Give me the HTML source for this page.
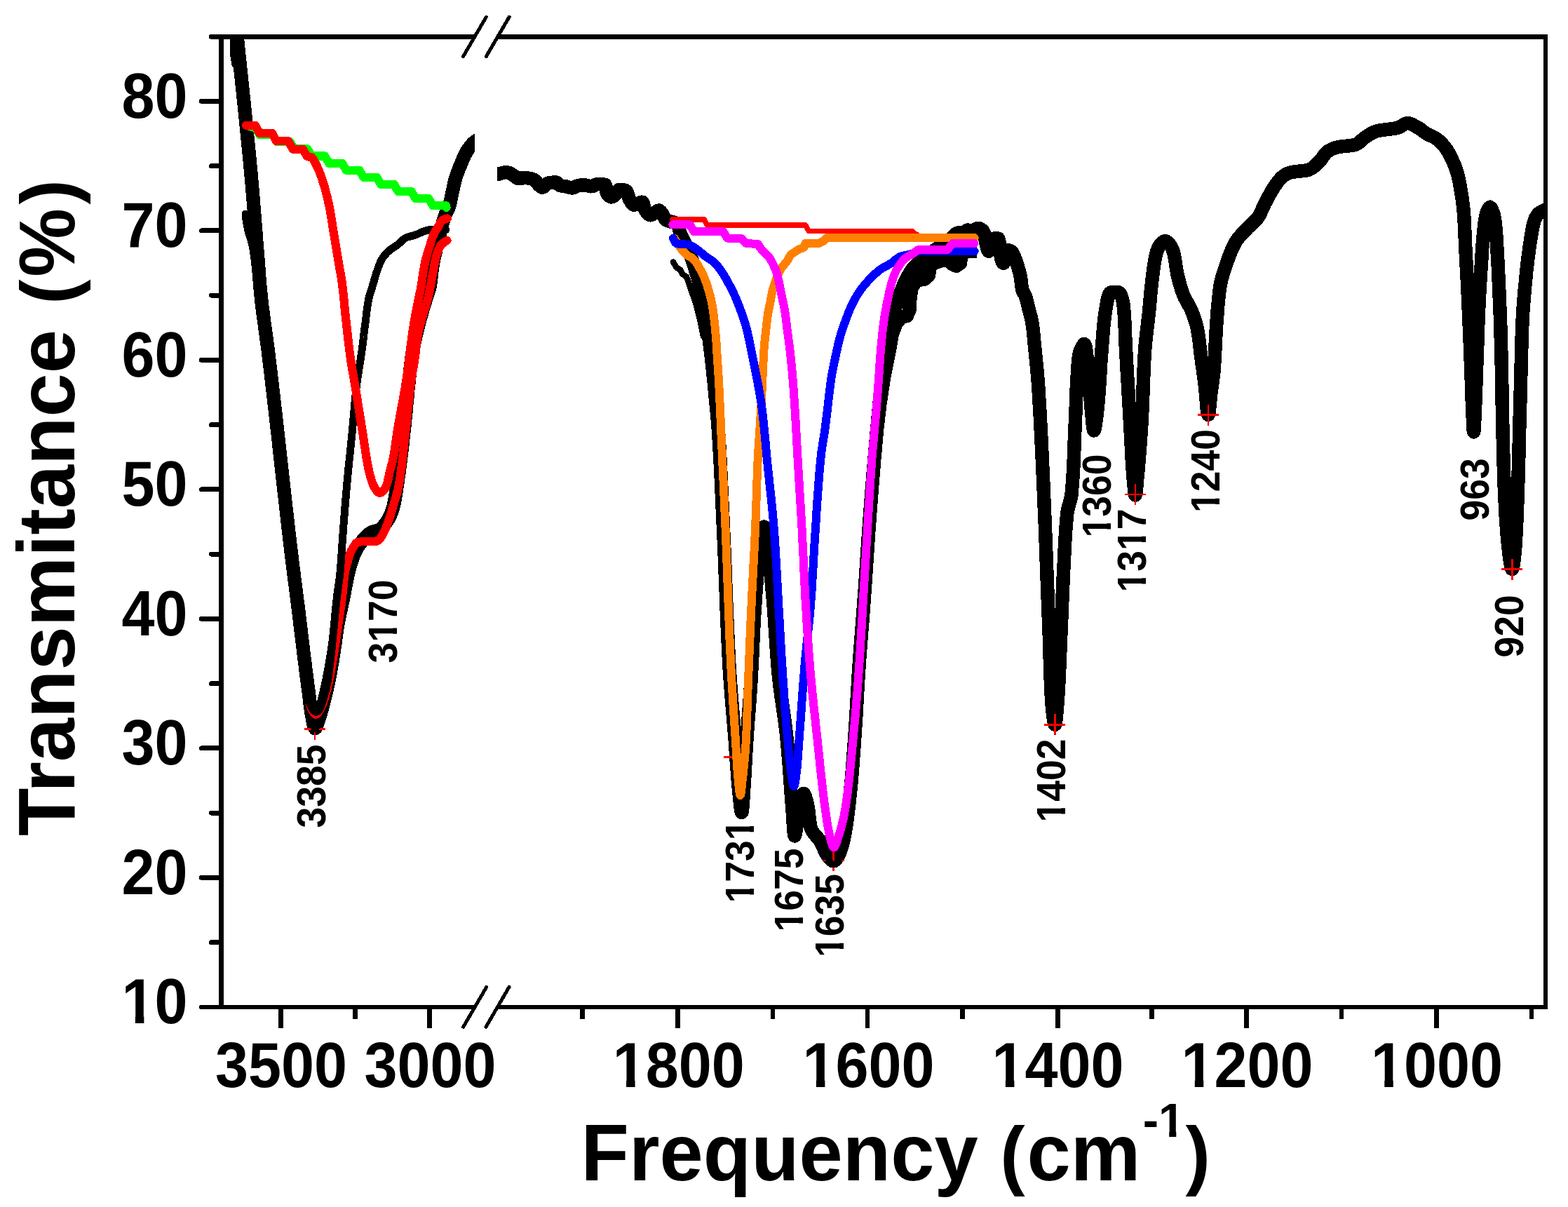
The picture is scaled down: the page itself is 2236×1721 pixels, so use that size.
<!DOCTYPE html>
<html><head><meta charset="utf-8">
<style>
html,body{margin:0;padding:0;background:#fff;}
body{width:2236px;height:1721px;overflow:hidden;}
svg{display:block;}
path,circle{shape-rendering:crispEdges;}
text{font-family:"Liberation Sans",sans-serif;font-weight:bold;fill:#000;}
</style></head>
<body>
<svg width="2236" height="1721" viewBox="0 0 2236 1721">
<rect width="2236" height="1721" fill="#fff"/>
<defs>
<clipPath id="cl"><rect x="315.7" y="52.3" width="361.3" height="1383.7"/></clipPath>
<clipPath id="cr"><rect x="709" y="52.3" width="1495.3000000000002" height="1383.7"/></clipPath>
</defs>
<g clip-path="url(#cl)">
<path d="M336.0,30.0 L336.3,33.0 L336.6,36.0 L336.9,39.0 L337.1,42.0 L337.4,45.0 L337.7,48.0 L338.0,51.0 L338.3,54.0 L338.6,57.0 L338.9,60.0 L339.2,62.9 L339.5,65.9 L339.8,68.9 L340.1,71.9 L340.4,74.9 L340.7,77.9 L341.0,80.9 L341.4,83.9 L341.7,86.9 L342.0,89.9 L342.3,92.9 L342.6,95.9 L342.9,98.9 L343.2,101.9 L343.6,104.8 L343.9,107.8 L344.2,110.8 L344.5,113.8 L344.8,116.8 L345.1,119.8 L345.5,122.8 L345.8,125.8 L346.1,128.8 L346.4,131.8 L346.7,134.8 L347.0,137.8 L347.3,140.8 L347.7,143.7 L348.0,146.7 L348.3,149.7 L348.6,152.7 L348.9,155.7 L349.2,158.7 L349.5,161.7 L349.8,164.7 L350.1,167.7 L350.4,170.7 L350.7,173.7 L351.0,176.7 L351.3,179.7 L351.6,182.7 L351.9,185.7 L352.2,188.6 L352.5,191.6 L352.8,194.6 L353.1,197.6 L353.4,200.6 L353.7,203.6 L354.0,206.6 L354.3,209.6 L354.6,212.6 L354.9,215.6 L355.2,218.6 L355.5,221.6 L355.8,224.6 L356.1,227.6 L356.4,230.6 L356.6,233.6 L356.9,236.6 L357.2,239.6 L357.5,242.6 L357.8,245.6 L358.0,248.5 L358.3,251.5 L358.6,254.5 L358.8,257.5 L359.1,260.5 L359.4,263.5 L359.6,266.5 L359.9,269.5 L360.1,272.5 L360.4,275.5 L360.6,278.5 L360.9,281.5 L361.1,284.5 L361.4,287.5 L361.6,290.5 L361.8,293.5 L362.1,296.5 L362.3,299.5 L362.6,302.5 L362.8,305.5 L363.0,308.5 L363.3,311.5 L363.5,314.5 L363.7,317.5 L364.0,320.5 L364.2,323.5 L364.4,326.5 L364.7,329.5 L364.9,332.5 L365.1,335.5 L365.4,338.5 L365.6,341.5 L365.8,344.5 L366.1,347.5 L366.3,350.5 L366.6,353.5 L366.8,356.5 L367.0,359.5 L367.3,362.5 L367.5,365.5 L367.8,368.5 L368.0,371.5 L368.2,374.5 L368.4,377.5 L368.7,380.5 L368.9,383.5 L369.1,386.5 L369.4,389.5 L369.6,392.5 L369.8,395.5 L370.1,398.5 L370.3,401.5 L370.6,404.5 L370.8,407.5 L371.1,410.5 L371.4,413.5 L371.7,416.5 L371.9,419.5 L372.3,422.5 L372.6,425.5 L372.9,428.5 L373.2,431.5 L373.6,434.4 L373.9,437.4 L374.3,440.4 L374.7,443.4 L375.1,446.4 L375.4,449.4 L375.8,452.3 L376.2,455.3 L376.6,458.3 L377.1,461.3 L377.5,464.3 L377.9,467.3 L378.3,470.2 L378.7,473.2 L379.1,476.2 L379.5,479.2 L379.9,482.2 L380.3,485.2 L380.7,488.1 L381.1,491.1 L381.5,494.1 L381.9,497.1 L382.3,500.1 L382.7,503.1 L383.0,506.0 L383.4,509.0 L383.7,512.0 L384.1,515.0 L384.5,518.0 L384.8,521.0 L385.2,524.0 L385.5,527.0 L385.9,529.9 L386.3,532.9 L386.6,535.9 L387.0,538.9 L387.3,541.9 L387.7,544.9 L388.0,547.9 L388.4,550.9 L388.7,553.9 L389.1,556.8 L389.4,559.8 L389.8,562.8 L390.1,565.8 L390.5,568.8 L390.8,571.8 L391.1,574.8 L391.5,577.8 L391.8,580.8 L392.2,583.7 L392.5,586.7 L392.9,589.7 L393.2,592.7 L393.5,595.7 L393.9,598.7 L394.2,601.7 L394.6,604.7 L394.9,607.7 L395.2,610.6 L395.6,613.6 L395.9,616.6 L396.3,619.6 L396.6,622.6 L396.9,625.6 L397.3,628.6 L397.6,631.6 L397.9,634.6 L398.2,637.6 L398.6,640.6 L398.9,643.5 L399.2,646.5 L399.6,649.5 L399.9,652.5 L400.2,655.5 L400.5,658.5 L400.9,661.5 L401.2,664.5 L401.5,667.5 L401.9,670.5 L402.2,673.5 L402.5,676.4 L402.8,679.4 L403.2,682.4 L403.5,685.4 L403.8,688.4 L404.2,691.4 L404.5,694.4 L404.8,697.4 L405.2,700.4 L405.5,703.4 L405.8,706.4 L406.2,709.3 L406.5,712.3 L406.9,715.3 L407.2,718.3 L407.5,721.3 L407.9,724.3 L408.2,727.3 L408.6,730.3 L408.9,733.3 L409.2,736.3 L409.6,739.2 L409.9,742.2 L410.3,745.2 L410.6,748.2 L410.9,751.2 L411.3,754.2 L411.6,757.2 L412.0,760.2 L412.3,763.2 L412.7,766.1 L413.0,769.1 L413.4,772.1 L413.7,775.1 L414.1,778.1 L414.4,781.1 L414.8,784.1 L415.1,787.1 L415.5,790.0 L415.9,793.0 L416.2,796.0 L416.6,799.0 L417.0,802.0 L417.4,805.0 L417.7,808.0 L418.1,810.9 L418.5,813.9 L418.9,816.9 L419.2,819.9 L419.6,822.9 L420.0,825.9 L420.4,828.9 L420.8,831.8 L421.2,834.8 L421.6,837.8 L421.9,840.8 L422.3,843.8 L422.7,846.8 L423.1,849.7 L423.5,852.7 L423.8,855.7 L424.2,858.7 L424.6,861.7 L425.0,864.7 L425.3,867.7 L425.7,870.6 L426.1,873.6 L426.4,876.6 L426.8,879.6 L427.1,882.6 L427.5,885.6 L427.9,888.6 L428.2,891.6 L428.6,894.5 L429.0,897.5 L429.3,900.5 L429.7,903.5 L430.0,906.5 L430.4,909.5 L430.7,912.5 L431.1,915.5 L431.5,918.4 L431.8,921.4 L432.2,924.4 L432.6,927.4 L432.9,930.4 L433.3,933.4 L433.7,936.4 L434.0,939.4 L434.4,942.3 L434.8,945.3 L435.2,948.3 L435.5,951.3 L435.9,954.3 L436.3,957.3 L436.7,960.2 L437.0,963.2 L437.4,966.2 L437.8,969.2 L438.2,972.2 L438.6,975.2 L439.0,978.2 L439.4,981.1 L439.8,984.1 L440.2,987.1 L440.6,990.1 L440.9,993.1 L441.3,996.1 L441.7,999.1 L442.0,1002.1 L442.4,1005.1 L442.8,1008.0 L443.2,1011.0 L443.6,1014.0 L444.1,1017.0 L444.6,1019.9 L445.2,1022.9 L445.8,1026.4 L446.5,1030.3 L447.3,1033.9 L448.2,1036.8 L449.1,1038.4 L450.1,1038.2 L451.2,1036.2 L452.4,1033.0 L453.6,1029.4 L454.7,1025.9 L455.7,1023.0 L456.6,1020.1 L457.4,1017.3 L458.2,1014.4 L459.0,1011.5 L459.8,1008.5 L460.6,1005.6 L461.3,1002.7 L462.1,999.8 L462.8,996.9 L463.5,994.0 L464.3,991.0 L465.0,988.1 L465.7,985.2 L466.3,982.2 L467.0,979.3 L467.6,976.4 L468.3,973.4 L468.9,970.5 L469.5,967.5 L470.0,964.6 L470.6,961.6 L471.2,958.7 L471.7,955.7 L472.2,952.8 L472.7,949.8 L473.3,946.8 L473.8,943.8 L474.2,940.9 L474.7,937.9 L475.2,934.9 L475.7,932.0 L476.2,929.0 L476.6,926.0 L477.0,923.0 L477.5,920.1 L477.9,917.1 L478.3,914.1 L478.7,911.1 L479.1,908.1 L479.5,905.1 L479.9,902.2 L480.4,899.2 L480.8,896.2 L481.3,893.3 L481.8,890.3 L482.3,887.3 L482.9,884.4 L483.5,881.4 L484.1,878.5 L484.7,875.5 L485.3,872.6 L486.0,869.6 L486.6,866.7 L487.2,863.8 L487.9,860.8 L488.5,857.9 L489.1,854.9 L489.7,852.0 L490.3,849.0 L490.9,846.1 L491.4,843.1 L492.0,840.1 L492.5,837.2 L493.1,834.2 L493.7,831.3 L494.3,828.3 L494.9,825.4 L495.5,822.4 L496.2,819.5 L496.9,816.6 L497.6,813.7 L498.3,810.8 L499.1,807.8 L500.0,804.9 L500.8,802.1 L501.8,799.2 L502.7,796.4 L503.8,793.5 L504.9,790.7 L506.1,788.0 L507.4,785.3 L508.8,782.6 L510.4,780.0 L512.0,777.5 L513.8,775.0 L515.5,772.6 L517.4,770.2 L519.3,767.9 L521.3,765.7 L523.5,763.6 L525.8,761.6 L528.3,759.8 L530.9,758.5 L533.8,757.6 L536.8,756.8 L539.7,755.9 L542.1,754.6 L544.4,752.7 L546.5,750.4 L548.4,748.0 L550.3,745.5 L552.0,743.0 L553.6,740.5 L555.1,737.8 L556.4,735.1 L557.6,732.4 L558.7,729.6 L559.7,726.7 L560.5,723.8 L561.3,720.9 L561.9,718.0 L562.5,715.1 L563.1,712.1 L563.6,709.1 L564.1,706.2 L564.6,703.2 L565.1,700.2 L565.5,697.2 L566.0,694.2 L566.4,691.2 L566.9,688.3 L567.3,685.3 L567.7,682.3 L568.1,679.3 L568.6,676.4 L569.0,673.4 L569.4,670.4 L569.8,667.4 L570.2,664.4 L570.5,661.4 L570.9,658.5 L571.3,655.5 L571.7,652.5 L572.0,649.5 L572.4,646.5 L572.7,643.5 L573.1,640.5 L573.4,637.5 L573.8,634.6 L574.1,631.6 L574.5,628.6 L574.8,625.6 L575.2,622.6 L575.5,619.6 L575.8,616.6 L576.2,613.6 L576.5,610.6 L576.8,607.6 L577.1,604.6 L577.4,601.7 L577.7,598.7 L578.0,595.7 L578.3,592.7 L578.6,589.7 L578.9,586.7 L579.2,583.7 L579.4,580.7 L579.7,577.7 L580.0,574.7 L580.3,571.7 L580.6,568.7 L580.9,565.7 L581.1,562.7 L581.4,559.7 L581.7,556.7 L582.0,553.7 L582.3,550.7 L582.7,547.7 L583.0,544.8 L583.3,541.8 L583.6,538.8 L584.0,535.8 L584.3,532.8 L584.6,529.8 L585.0,526.8 L585.3,523.8 L585.7,520.8 L586.1,517.8 L586.4,514.8 L586.8,511.9 L587.3,508.9 L587.7,505.9 L588.1,502.9 L588.6,500.0 L589.2,497.0 L589.7,494.1 L590.3,491.1 L591.0,488.2 L591.6,485.2 L592.3,482.3 L592.9,479.4 L593.6,476.4 L594.3,473.5 L595.0,470.6 L595.7,467.7 L596.5,464.7 L597.3,461.8 L598.0,458.9 L598.8,456.0 L599.6,453.1 L600.4,450.2 L601.3,447.3 L602.1,444.4 L602.9,441.5 L603.8,438.7 L604.6,435.8 L605.5,432.9 L606.4,430.0 L607.3,427.1 L608.2,424.3 L609.1,421.4 L610.1,418.5 L611.0,415.6 L611.9,412.8 L612.7,409.9 L613.3,407.0 L613.8,404.0 L614.2,401.0 L614.6,398.1 L615.0,395.1 L615.3,392.1 L615.6,389.1 L616.0,386.1 L616.4,383.1 L616.8,380.1 L617.3,377.1 L617.8,374.2 L618.4,371.2 L619.0,368.3 L619.7,365.3 L620.3,362.4 L621.0,359.5 L621.6,356.5 L622.3,353.6 L623.0,350.7 L623.8,347.7 L624.5,344.8 L625.2,341.9 L626.0,339.0 L626.7,336.1 L627.5,333.2 L628.2,330.2 L628.9,327.3 L629.7,324.4 L630.4,321.4 L631.2,318.5 L632.0,315.6 L632.8,312.8 L633.7,309.9 L634.7,307.1 L635.9,304.3 L637.2,301.6 L638.5,298.9 L639.8,296.1 L640.8,293.3 L641.6,290.4 L642.3,287.5 L642.9,284.6 L643.5,281.6 L644.1,278.6 L644.7,275.7 L645.3,272.7 L646.0,269.8 L646.6,266.8 L647.2,263.9 L647.9,261.0 L648.6,258.0 L649.4,255.1 L650.2,252.3 L651.2,249.4 L652.2,246.6 L653.3,243.8 L654.4,241.0 L655.5,238.2 L656.7,235.4 L657.8,232.6 L658.9,229.8 L660.1,227.0 L661.3,224.2 L662.6,221.5 L664.0,218.8 L665.4,216.3 L667.0,213.7 L668.8,211.1 L670.6,208.6 L672.6,206.3 L674.6,204.1 L676.8,202.2 L679.1,200.5 L681.6,198.9 L684.3,197.4 L687.1,196.1 L690.0,195.0" fill="none" stroke="#000" stroke-width="19.5" stroke-linecap="round" stroke-linejoin="round" />
<path d="M333.7,40.0 L333.7,79.0 L336.0,92.0" fill="none" stroke="#000" stroke-width="11" stroke-linecap="round" stroke-linejoin="round" />
<path d="M434,1039.7 H464 M449,1039.7 V1054.7" stroke="#f00" stroke-width="2.6" fill="none"/>
<path d="M440.0,1010.0 L444.0,1028.0 L449.5,1039.0 L455.0,1028.0 L459.0,1010.0" fill="none" stroke="#000" stroke-width="11" stroke-linecap="round" stroke-linejoin="round" />
<path d="M637.5,343.0 L634.7,344.6 L632.1,346.4 L629.9,348.3 L628.1,350.5 L626.7,353.0 L625.4,355.7 L624.2,358.6 L623.2,361.6 L622.3,364.5 L621.5,367.4 L620.8,370.3 L620.2,373.3 L619.6,376.3 L619.1,379.2 L618.6,382.2 L618.0,385.2 L617.5,388.2 L616.9,391.2 L616.3,394.1 L615.8,397.1 L615.2,400.1 L614.7,403.1 L614.2,406.0 L613.6,409.0 L613.1,412.0 L612.5,415.0 L611.9,417.9 L611.3,420.9 L610.6,423.8 L609.9,426.7 L609.2,429.7 L608.3,432.6 L607.5,435.5 L606.6,438.3 L605.7,441.2 L604.8,444.1 L603.9,447.0 L603.0,449.9 L602.2,452.8 L601.3,455.7 L600.4,458.6 L599.6,461.5 L598.8,464.4 L598.0,467.4 L597.3,470.3 L596.6,473.2 L596.1,476.2 L595.6,479.2 L595.2,482.1 L594.7,485.1 L594.4,488.1 L594.0,491.1 L593.6,494.1 L593.3,497.1 L592.9,500.1 L592.6,503.1 L592.2,506.2 L591.8,509.2 L591.4,512.2 L591.0,515.1 L590.5,518.1 L590.0,521.1 L589.5,524.1 L588.9,527.1 L588.4,530.0 L587.9,533.0 L587.4,536.0 L586.9,539.0 L586.5,542.0 L586.1,545.0 L585.7,547.9 L585.4,550.9 L585.0,553.9 L584.6,556.9 L584.3,559.9 L583.9,562.9 L583.6,565.9 L583.3,568.9 L582.9,571.9 L582.6,575.0 L582.3,578.0 L582.0,581.0 L581.7,584.0 L581.4,587.0 L581.1,590.0 L580.7,593.0 L580.4,596.0 L580.1,599.0 L579.8,602.0 L579.5,605.0 L579.1,608.0 L578.8,611.0 L578.4,614.0 L578.1,617.0 L577.7,620.0 L577.4,623.0 L577.1,626.0 L576.7,629.0 L576.4,632.1 L576.1,635.1 L575.8,638.1 L575.4,641.1 L575.1,644.1 L574.8,647.1 L574.5,650.1 L574.1,653.1 L573.8,656.2 L573.4,659.2 L573.1,662.2 L572.7,665.2 L572.3,668.2 L571.9,671.2 L571.5,674.1 L571.1,677.1 L570.7,680.1 L570.2,683.1 L569.7,686.1 L569.2,689.0 L568.7,692.0 L568.1,694.9 L567.5,697.8 L566.7,700.8 L566.0,703.7 L565.1,706.6 L564.3,709.5 L563.4,712.4 L562.5,715.3 L561.7,718.2 L560.8,721.1 L560.0,724.0 L559.1,726.9 L558.2,729.8 L557.3,732.7 L556.4,735.6 L555.5,738.5 L554.5,741.3 L553.5,744.2 L552.5,747.0 L551.4,749.9 L550.3,752.7 L549.1,755.5 L547.8,758.2 L546.5,760.9 L545.0,763.7 L543.3,766.3 L541.5,768.6 L539.2,770.4 L536.4,772.0 L533.5,772.2 L530.6,772.2 L527.5,772.2 L524.5,772.2 L521.4,772.2 L518.3,772.2 L515.1,772.4 L512.0,772.7 L509.5,773.2 L507.3,774.9 L505.4,777.7 L503.7,780.4 L502.1,783.0 L500.7,785.7 L499.6,788.5 L498.6,791.3 L497.6,794.2 L496.8,797.1 L496.0,800.0 L495.2,803.0 L494.3,805.9 L493.6,808.8 L492.8,811.7 L492.2,814.7 L491.7,817.6 L491.3,820.6 L490.9,823.6 L490.6,826.6 L490.2,829.6 L489.9,832.6 L489.6,835.6 L489.3,838.6 L489.0,841.7 L488.8,844.7 L488.4,847.7 L488.1,850.7 L487.7,853.7 L487.3,856.7 L486.9,859.7 L486.5,862.7 L486.1,865.7 L485.6,868.6 L485.2,871.6 L484.7,874.6 L484.2,877.6 L483.8,880.6 L483.3,883.6 L482.8,886.6 L482.4,889.5 L481.9,892.5 L481.5,895.5 L481.0,898.5 L480.6,901.5 L480.2,904.5 L479.7,907.5 L479.3,910.5 L478.8,913.5 L478.4,916.4 L477.9,919.4 L477.5,922.4 L477.0,925.4 L476.6,928.4 L476.1,931.4 L475.6,934.4 L475.1,937.3 L474.7,940.3 L474.2,943.3 L473.7,946.3 L473.2,949.3 L472.7,952.3 L472.2,955.3 L471.7,958.2 L471.1,961.2 L470.6,964.2 L470.0,967.1 L469.3,970.1 L468.7,973.0 L468.0,976.0 L467.4,978.9 L466.7,981.9 L465.9,984.8 L465.1,987.8 L464.3,990.7 L463.5,993.6 L462.6,996.5 L461.7,999.4 L460.7,1002.2 L459.6,1005.0 L458.4,1007.8 L457.1,1010.5 L455.6,1013.1 L453.8,1015.8 L451.7,1018.4 L449.6,1018.7 L447.4,1016.3 L445.7,1013.5 L444.4,1010.9 L443.3,1008.0 L442.5,1005.0" fill="none" stroke="#f00" stroke-width="12.2" stroke-linecap="round" stroke-linejoin="round" />
<path d="M350.0,305.0 L350.3,308.0 L350.7,311.0 L351.1,314.0 L351.6,317.0 L352.1,319.9 L352.6,322.9 L353.2,325.8 L353.9,328.8 L354.7,331.7 L355.5,334.5 L356.5,337.4 L357.4,340.3 L358.3,343.2 L359.1,346.1 L359.8,349.0 L360.4,351.9 L360.9,354.9 L361.3,357.9 L361.8,360.8 L362.2,363.8 L362.6,366.8 L363.0,369.8 L363.4,372.8 L363.7,375.8 L364.1,378.8 L364.5,381.8 L365.0,384.8 L365.4,387.7 L365.9,390.7 L366.4,393.7 L366.8,396.7 L367.3,399.6 L367.8,402.6 L368.3,405.6 L368.8,408.5 L369.2,411.5 L369.7,414.5 L370.1,417.5 L370.6,420.5 L371.0,423.4 L371.4,426.4 L371.8,429.4 L372.2,432.4 L372.6,435.4 L373.0,438.3 L373.4,441.3 L373.8,444.3 L374.2,447.3 L374.6,450.3 L375.0,453.3 L375.3,456.3 L375.7,459.3 L376.1,462.2 L376.4,465.2 L376.8,468.2 L377.2,471.2 L377.5,474.2 L377.9,477.2 L378.3,480.2 L378.6,483.2 L379.0,486.2 L379.4,489.1 L379.7,492.1 L380.1,495.1 L380.5,498.1 L380.8,501.1 L381.2,504.1 L381.5,507.1 L381.9,510.1 L382.3,513.1 L382.6,516.0 L383.0,519.0 L383.3,522.0 L383.7,525.0 L384.1,528.0 L384.4,531.0 L384.8,534.0 L385.1,537.0 L385.5,540.0 L385.8,543.0 L386.2,545.9 L386.5,548.9 L386.9,551.9 L387.2,554.9 L387.6,557.9 L387.9,560.9 L388.3,563.9 L388.6,566.9 L389.0,569.9 L389.3,572.9 L389.7,575.9 L390.0,578.8 L390.3,581.8 L390.7,584.8 L391.0,587.8 L391.4,590.8 L391.7,593.8 L392.1,596.8 L392.4,599.8 L392.7,602.8 L393.1,605.8 L393.4,608.8 L393.8,611.7 L394.1,614.7 L394.4,617.7 L394.8,620.7 L395.1,623.7 L395.5,626.7 L395.8,629.7 L396.1,632.7 L396.5,635.7 L396.8,638.7 L397.1,641.7 L397.5,644.7 L397.8,647.7 L398.1,650.6 L398.5,653.6 L398.8,656.6 L399.1,659.6 L399.5,662.6 L399.8,665.6 L400.1,668.6 L400.5,671.6 L400.8,674.6 L401.1,677.6 L401.4,680.6 L401.8,683.6 L402.1,686.6 L402.5,689.5 L402.8,692.5 L403.1,695.5 L403.5,698.5 L403.8,701.5 L404.1,704.5 L404.5,707.5 L404.8,710.5 L405.2,713.5 L405.5,716.5 L405.8,719.5 L406.2,722.5 L406.5,725.5 L406.9,728.4 L407.2,731.4 L407.5,734.4 L407.9,737.4 L408.2,740.4 L408.6,743.4 L408.9,746.4 L409.2,749.4 L409.6,752.4 L409.9,755.4 L410.3,758.4 L410.6,761.3 L411.0,764.3 L411.3,767.3 L411.7,770.3 L412.0,773.3 L412.4,776.3 L412.7,779.3 L413.1,782.3 L413.4,785.3 L413.8,788.3 L414.2,791.3 L414.5,794.2 L414.9,797.2 L415.2,800.2 L415.6,803.2 L416.0,806.2 L416.4,809.2 L416.7,812.2 L417.1,815.2 L417.5,818.1 L417.9,821.1 L418.3,824.1 L418.6,827.1 L419.0,830.1 L419.4,833.1 L419.8,836.1 L420.2,839.0 L420.5,842.0 L420.9,845.0 L421.3,848.0 L421.7,851.0 L422.0,854.0 L422.4,857.0 L422.8,860.0 L423.1,863.0 L423.5,865.9 L423.9,868.9 L424.2,871.9 L424.6,874.9 L424.9,877.9 L425.3,880.9 L425.6,883.9 L426.0,886.9 L426.3,889.9 L426.7,892.9 L427.0,895.8 L427.4,898.8 L427.7,901.8 L428.1,904.8 L428.4,907.8 L428.8,910.8 L429.1,913.8 L429.5,916.8 L429.8,919.8 L430.2,922.8 L430.5,925.8 L430.9,928.7 L431.2,931.7 L431.5,934.7 L431.9,937.7 L432.2,940.7 L432.6,943.7 L432.9,946.7 L433.3,949.7 L433.6,952.7 L434.0,955.7 L434.3,958.7 L434.7,961.6 L435.1,964.6 L435.4,967.6 L435.8,970.6 L436.1,973.6 L436.5,976.6 L436.9,979.6 L437.4,982.6 L437.9,985.5 L438.4,988.5 L439.1,991.4 L439.8,994.3 L440.7,997.2 L441.5,1000.1 L442.4,1003.1 L443.3,1006.1 L444.4,1008.9 L445.7,1011.4 L447.9,1013.9 L450.4,1015.2 L453.3,1014.1 L455.4,1012.1 L456.8,1009.5 L457.9,1006.5 L458.9,1003.6 L459.8,1000.8 L460.7,997.9 L461.6,995.0 L462.4,992.1 L463.2,989.2 L464.0,986.3 L464.7,983.3 L465.4,980.4 L466.0,977.4 L466.6,974.5 L467.2,971.5 L467.7,968.5 L468.2,965.6 L468.6,962.6 L469.1,959.7 L469.5,956.7 L469.8,953.7 L470.2,950.7 L470.6,947.7 L470.9,944.7 L471.2,941.7 L471.5,938.7 L471.9,935.7 L472.2,932.7 L472.5,929.7 L472.9,926.7 L473.2,923.7 L473.5,920.7 L473.8,917.7 L474.1,914.7 L474.4,911.7 L474.7,908.7 L475.0,905.8 L475.3,902.8 L475.6,899.8 L475.9,896.8 L476.2,893.8 L476.5,890.8 L476.8,887.8 L477.1,884.8 L477.4,881.8 L477.6,878.8 L477.9,875.8 L478.2,872.8 L478.5,869.8 L478.8,866.8 L479.1,863.8 L479.4,860.8 L479.7,857.8 L480.1,854.8 L480.4,851.8 L480.8,848.8 L481.1,845.8 L481.5,842.9 L481.9,839.9 L482.4,836.9 L482.8,833.9 L483.2,830.9 L483.6,827.9 L484.0,825.0 L484.3,822.0 L484.6,819.0 L485.0,816.0 L485.2,813.0 L485.5,810.0 L485.7,807.0 L486.0,804.0 L486.2,801.0 L486.4,798.0 L486.6,795.0 L486.8,792.0 L487.1,789.0 L487.3,786.0 L487.5,783.0 L487.7,780.0 L487.9,777.0 L488.1,773.9 L488.3,770.9 L488.5,767.9 L488.8,764.9 L489.0,761.9 L489.2,758.9 L489.4,755.9 L489.7,752.9 L489.9,749.9 L490.1,746.9 L490.4,743.9 L490.6,740.9 L490.8,737.9 L491.1,734.9 L491.3,731.9 L491.5,728.9 L491.8,725.9 L492.0,722.9 L492.2,719.9 L492.5,716.9 L492.7,713.9 L493.0,710.9 L493.2,707.9 L493.5,704.9 L493.7,701.9 L494.0,698.9 L494.3,695.9 L494.5,692.9 L494.8,689.9 L495.1,686.9 L495.3,683.9 L495.6,680.9 L495.9,677.9 L496.2,674.9 L496.5,671.9 L496.8,668.9 L497.1,665.9 L497.4,662.9 L497.7,659.9 L498.0,656.9 L498.3,654.0 L498.6,651.0 L499.0,648.0 L499.3,645.0 L499.6,642.0 L499.9,639.0 L500.2,636.0 L500.5,633.0 L500.8,630.0 L501.1,627.0 L501.4,624.0 L501.7,621.0 L502.0,618.0 L502.3,615.0 L502.6,612.0 L502.9,609.0 L503.1,606.0 L503.4,603.0 L503.7,600.0 L503.9,597.0 L504.2,594.0 L504.4,591.0 L504.7,588.0 L505.0,585.0 L505.2,582.0 L505.5,579.0 L505.8,576.0 L506.0,573.0 L506.3,570.0 L506.6,567.0 L506.9,564.0 L507.2,561.0 L507.5,558.0 L507.9,555.0 L508.2,552.1 L508.6,549.1 L509.0,546.1 L509.4,543.1 L509.8,540.1 L510.3,537.2 L510.7,534.2 L511.2,531.2 L511.7,528.2 L512.1,525.3 L512.6,522.3 L513.1,519.3 L513.6,516.3 L514.0,513.4 L514.5,510.4 L514.9,507.4 L515.4,504.4 L515.8,501.4 L516.2,498.5 L516.6,495.5 L517.0,492.5 L517.4,489.5 L517.7,486.5 L518.1,483.5 L518.5,480.5 L518.8,477.5 L519.2,474.5 L519.5,471.6 L519.9,468.6 L520.3,465.6 L520.7,462.6 L521.1,459.6 L521.4,456.6 L521.8,453.6 L522.2,450.6 L522.5,447.6 L522.9,444.6 L523.3,441.6 L523.7,438.6 L524.1,435.7 L524.6,432.7 L525.1,429.7 L525.6,426.8 L526.3,423.9 L527.0,421.0 L527.9,418.1 L528.9,415.2 L529.8,412.4 L530.8,409.5 L531.6,406.6 L532.5,403.7 L533.3,400.8 L534.1,397.9 L534.9,395.0 L535.8,392.1 L536.7,389.3 L537.7,386.4 L538.7,383.5 L539.7,380.6 L540.7,377.8 L541.9,375.0 L543.1,372.3 L544.5,369.7 L546.1,367.2 L547.9,364.8 L549.9,362.4 L552.0,360.2 L554.2,358.1 L556.4,356.2 L558.8,354.4 L561.3,352.7 L563.9,351.1 L566.4,349.3 L568.7,347.5 L571.0,345.4 L573.2,343.2 L575.5,341.2 L577.9,339.5 L580.5,338.3 L583.3,337.4 L586.3,336.7 L589.3,335.9 L592.2,335.0 L595.0,333.9 L597.7,332.7 L600.5,331.4 L603.2,330.2 L606.1,329.3 L609.0,328.5 L611.9,327.8 L614.9,327.5 L617.9,327.5 L620.9,327.5 L623.9,327.5 L626.9,327.5 L629.9,327.5 L633.0,327.5 L636.0,327.5" fill="none" stroke="#000" stroke-width="11" stroke-linecap="round" stroke-linejoin="round" />
<path d="M351.0,178.8 L364.3,182.1 L370.3,192.2 L389.0,192.2 L395.0,202.3 L413.7,202.3 L419.7,212.4 L438.4,212.4 L444.4,222.5 L463.1,222.5 L469.1,232.6 L487.8,232.6 L493.8,242.7 L512.5,242.7 L518.5,252.8 L537.2,252.8 L543.2,262.9 L561.9,262.9 L567.9,273.0 L586.6,273.0 L592.6,283.1 L611.3,283.1 L617.3,293.2 L636.0,293.2 L636.5,296.0" fill="none" stroke="#0f0" stroke-width="12.2" stroke-linecap="round" stroke-linejoin="round" />
<path d="M351.0,178.8 L364.0,178.8 L370.0,189.7 L388.0,189.7 L394.0,201.3 L411.0,201.3 L418.0,212.8 L432.0,212.8 L438.0,223.0 L445.0,224.5 L445.0,224.5 L446.6,227.1 L448.1,229.7 L449.6,232.3 L451.0,235.0 L452.3,237.7 L453.6,240.4 L454.8,243.2 L455.9,246.0 L457.0,248.8 L458.0,251.7 L459.0,254.5 L459.9,257.4 L460.8,260.3 L461.7,263.1 L462.6,266.0 L463.4,268.9 L464.2,271.8 L465.0,274.8 L465.7,277.7 L466.5,280.6 L467.2,283.6 L467.9,286.5 L468.5,289.5 L469.2,292.4 L469.8,295.4 L470.4,298.3 L470.9,301.3 L471.4,304.3 L471.9,307.2 L472.4,310.2 L472.9,313.2 L473.4,316.2 L473.8,319.2 L474.3,322.1 L474.7,325.1 L475.2,328.1 L475.7,331.1 L476.2,334.1 L476.7,337.0 L477.2,340.0 L477.7,343.0 L478.2,346.0 L478.7,349.0 L479.2,351.9 L479.6,354.9 L480.1,357.9 L480.6,360.9 L481.1,363.8 L481.6,366.8 L482.1,369.8 L482.6,372.8 L483.1,375.7 L483.7,378.7 L484.2,381.7 L484.7,384.7 L485.2,387.6 L485.8,390.6 L486.3,393.6 L486.8,396.6 L487.2,399.5 L487.7,402.5 L488.1,405.5 L488.4,408.5 L488.8,411.5 L489.1,414.5 L489.5,417.5 L489.8,420.5 L490.1,423.5 L490.4,426.5 L490.7,429.5 L490.9,432.5 L491.2,435.5 L491.5,438.5 L491.8,441.5 L492.1,444.5 L492.4,447.5 L492.7,450.5 L493.1,453.5 L493.4,456.5 L493.7,459.5 L494.1,462.5 L494.4,465.5 L494.7,468.5 L495.1,471.5 L495.4,474.5 L495.7,477.5 L496.1,480.5 L496.4,483.5 L496.8,486.5 L497.1,489.5 L497.5,492.5 L497.9,495.5 L498.2,498.5 L498.6,501.5 L499.0,504.5 L499.4,507.5 L499.8,510.5 L500.2,513.5 L500.7,516.5 L501.1,519.4 L501.6,522.4 L502.1,525.4 L502.6,528.4 L503.2,531.3 L503.7,534.3 L504.2,537.3 L504.7,540.2 L505.2,543.2 L505.7,546.2 L506.2,549.2 L506.7,552.2 L507.2,555.1 L507.7,558.1 L508.2,561.1 L508.6,564.1 L509.1,567.0 L509.6,570.0 L510.1,573.0 L510.5,576.0 L511.0,579.0 L511.5,581.9 L512.0,584.9 L512.5,587.9 L512.9,590.9 L513.4,593.9 L513.9,596.8 L514.4,599.8 L514.8,602.8 L515.3,605.8 L515.8,608.8 L516.3,611.7 L516.8,614.7 L517.3,617.7 L517.8,620.7 L518.2,623.7 L518.7,626.7 L519.1,629.7 L519.5,632.7 L520.0,635.7 L520.4,638.7 L520.9,641.7 L521.3,644.6 L521.8,647.6 L522.2,650.6 L522.7,653.6 L523.2,656.6 L523.8,659.5 L524.3,662.5 L524.9,665.4 L525.5,668.4 L526.2,671.3 L526.8,674.2 L527.6,677.2 L528.4,680.2 L529.2,683.2 L530.2,686.1 L531.2,689.0 L532.3,691.7 L533.6,694.3 L535.2,696.9 L537.3,699.8 L539.6,702.1 L541.8,703.0 L544.2,702.1 L546.6,699.8 L548.8,697.1 L550.3,694.5 L551.3,691.9 L552.2,689.1 L552.9,686.2 L553.6,683.1 L554.2,680.1 L554.9,677.0 L555.5,673.9 L556.3,671.0 L557.0,668.1 L557.8,665.2 L558.6,662.2 L559.4,659.3 L560.1,656.4 L560.7,653.4 L561.3,650.5 L561.8,647.5 L562.3,644.5 L562.7,641.6 L563.2,638.6 L563.6,635.6 L564.0,632.6 L564.4,629.6 L564.8,626.6 L565.2,623.6 L565.7,620.6 L566.1,617.6 L566.6,614.7 L567.1,611.7 L567.6,608.7 L568.1,605.7 L568.6,602.8 L569.2,599.8 L569.7,596.8 L570.2,593.8 L570.8,590.9 L571.3,587.9 L571.9,584.9 L572.4,582.0 L573.0,579.0 L573.5,576.0 L574.1,573.1 L574.6,570.1 L575.2,567.1 L575.7,564.2 L576.2,561.2 L576.7,558.2 L577.3,555.2 L577.8,552.3 L578.2,549.3 L578.7,546.3 L579.2,543.3 L579.6,540.4 L580.1,537.4 L580.5,534.4 L580.9,531.4 L581.3,528.4 L581.7,525.4 L582.1,522.4 L582.5,519.4 L582.9,516.4 L583.2,513.4 L583.6,510.4 L584.0,507.4 L584.3,504.4 L584.7,501.4 L585.1,498.5 L585.4,495.5 L585.8,492.5 L586.2,489.5 L586.6,486.5 L587.0,483.5 L587.4,480.5 L587.8,477.5 L588.2,474.5 L588.7,471.5 L589.1,468.6 L589.6,465.6 L590.1,462.6 L590.5,459.6 L591.0,456.6 L591.5,453.7 L592.1,450.7 L592.6,447.7 L593.1,444.7 L593.7,441.8 L594.3,438.8 L594.9,435.9 L595.5,432.9 L596.2,430.0 L596.8,427.0 L597.4,424.1 L598.0,421.1 L598.6,418.1 L599.2,415.2 L599.8,412.2 L600.4,409.3 L600.9,406.3 L601.3,403.3 L601.8,400.3 L602.2,397.3 L602.6,394.3 L603.0,391.4 L603.5,388.4 L604.0,385.4 L604.6,382.4 L605.1,379.5 L605.7,376.5 L606.3,373.5 L607.0,370.6 L607.7,367.7 L608.5,364.8 L609.3,361.9 L610.2,359.0 L611.1,356.1 L612.1,353.2 L613.0,350.4 L613.9,347.5 L614.7,344.5 L615.6,341.6 L616.5,338.8 L617.6,336.0 L618.8,333.3 L620.4,330.7 L622.1,328.1 L623.7,325.6 L625.2,322.8 L626.7,319.9 L628.2,317.1 L629.9,314.9 L632.1,313.4 L634.8,312.2 L638.0,311.5" fill="none" stroke="#f00" stroke-width="12.2" stroke-linecap="round" stroke-linejoin="round" />
</g>
<g clip-path="url(#cr)">
<path d="M698.8,249.5 L701.8,249.3 L704.8,249.1 L707.8,248.7 L710.7,248.2 L713.7,247.4 L716.7,246.5 L719.6,245.8 L722.4,245.6 L725.2,246.2 L728.0,247.5 L730.7,249.1 L733.3,250.8 L735.7,252.8 L738.1,254.5 L740.9,254.3 L744.0,254.0 L747.1,253.7 L750.1,253.6 L753.2,254.0 L756.3,254.6 L759.2,255.4 L761.8,256.4 L763.9,258.0 L765.8,260.5 L767.7,263.1 L770.0,265.2 L772.6,267.1 L775.0,266.8 L777.2,264.5 L779.6,262.1 L782.2,261.1 L785.2,260.5 L788.4,260.1 L791.4,259.8 L793.9,260.3 L796.2,262.7 L798.6,264.5 L801.4,265.1 L804.4,265.5 L807.5,266.0 L810.4,266.8 L813.3,267.6 L816.2,268.0 L819.0,267.1 L821.8,265.6 L824.6,264.5 L827.5,264.2 L830.5,264.0 L833.5,263.9 L836.5,264.3 L839.5,265.1 L842.4,265.8 L845.3,265.6 L848.0,264.0 L850.7,262.7 L853.9,262.7 L857.5,262.8 L860.7,263.0 L862.8,263.3 L863.7,264.6 L864.2,267.7 L864.7,271.5 L865.3,274.9 L866.6,277.5 L869.1,279.8 L871.7,280.9 L874.3,280.0 L876.9,278.1 L879.2,275.9 L881.0,273.0 L882.7,270.5 L885.2,270.4 L888.6,270.7 L891.6,271.3 L893.3,272.4 L894.6,274.8 L895.6,278.0 L896.6,281.4 L897.8,284.5 L899.4,287.3 L901.2,290.3 L903.3,292.1 L905.8,291.9 L908.8,291.0 L911.7,289.9 L914.7,288.2 L916.4,288.3 L917.4,290.7 L918.3,294.2 L919.2,297.8 L920.6,300.6 L922.6,303.3 L924.9,305.7 L927.3,306.8 L929.8,306.0 L932.4,304.2 L935.1,302.4 L937.6,300.4 L940.0,300.0 L942.3,302.0 L944.3,304.7 L946.0,307.3 L947.3,310.2 L948.9,312.7 L951.1,314.3 L954.1,315.4 L957.0,316.2 L959.9,316.9 L962.9,317.8 L965.9,319.1 L967.3,321.0 L968.0,323.8 L968.5,327.1 L969.2,330.1 L970.2,332.9 L971.4,335.6 L972.7,338.4 L974.1,341.1 L975.4,343.8 L976.7,346.5 L978.0,349.2 L979.4,351.9 L980.7,354.6 L982.0,357.3 L983.2,360.0 L984.3,362.8 L985.3,365.6 L986.3,368.4 L987.3,371.3 L988.2,374.2 L989.1,377.0 L990.0,379.9 L990.9,382.8 L991.8,385.6 L992.7,388.5 L993.6,391.4 L994.5,394.2 L995.3,397.1 L996.0,400.0 L996.7,402.9 L997.3,405.9 L998.0,408.8 L998.5,411.8 L999.1,414.7 L999.7,417.7 L1000.2,420.6 L1000.8,423.6 L1001.3,426.5 L1001.9,429.5 L1002.5,432.4 L1003.1,435.3 L1003.7,438.3 L1004.3,441.2 L1004.9,444.2 L1005.5,447.1 L1006.1,450.1 L1006.7,453.0 L1007.2,456.0 L1007.6,458.9 L1008.1,461.9 L1008.6,464.9 L1009.0,467.8 L1009.4,470.8 L1009.8,473.8 L1010.2,476.7 L1010.6,479.7 L1011.0,482.7 L1011.4,485.7 L1011.8,488.6 L1012.2,491.6 L1012.6,494.6 L1012.9,497.6 L1013.3,500.6 L1013.7,503.5 L1014.0,506.5 L1014.4,509.5 L1014.7,512.5 L1015.1,515.5 L1015.4,518.4 L1015.7,521.4 L1016.1,524.4 L1016.4,527.4 L1016.7,530.4 L1017.0,533.4 L1017.3,536.4 L1017.6,539.3 L1017.9,542.3 L1018.2,545.3 L1018.4,548.3 L1018.7,551.3 L1019.0,554.3 L1019.3,557.3 L1019.6,560.3 L1019.9,563.2 L1020.1,566.2 L1020.4,569.2 L1020.7,572.2 L1021.0,575.2 L1021.3,578.2 L1021.6,581.2 L1021.9,584.2 L1022.2,587.2 L1022.5,590.1 L1022.7,593.1 L1023.0,596.1 L1023.3,599.1 L1023.6,602.1 L1023.8,605.1 L1024.0,608.1 L1024.2,611.1 L1024.4,614.1 L1024.6,617.1 L1024.8,620.0 L1025.0,623.0 L1025.2,626.0 L1025.4,629.0 L1025.6,632.0 L1025.8,635.0 L1025.9,638.0 L1026.1,641.0 L1026.3,644.0 L1026.5,647.0 L1026.6,650.0 L1026.8,653.0 L1026.9,656.0 L1027.1,659.0 L1027.3,662.0 L1027.4,665.0 L1027.6,668.0 L1027.7,671.0 L1027.9,674.0 L1028.0,677.0 L1028.2,680.0 L1028.3,683.0 L1028.4,686.0 L1028.6,689.0 L1028.7,692.0 L1028.9,695.0 L1029.0,698.0 L1029.1,701.0 L1029.3,704.0 L1029.4,707.0 L1029.6,710.0 L1029.7,713.0 L1029.8,716.0 L1030.0,719.0 L1030.1,722.0 L1030.2,725.0 L1030.4,728.0 L1030.5,731.0 L1030.6,734.0 L1030.8,737.0 L1030.9,740.0 L1031.0,743.0 L1031.2,746.0 L1031.3,749.0 L1031.5,752.0 L1031.6,755.0 L1031.7,758.0 L1031.9,761.0 L1032.0,764.0 L1032.1,766.9 L1032.3,769.9 L1032.4,772.9 L1032.5,775.9 L1032.7,778.9 L1032.8,781.9 L1032.9,784.9 L1033.0,787.9 L1033.2,790.9 L1033.3,793.9 L1033.4,796.9 L1033.5,799.9 L1033.7,802.9 L1033.8,805.9 L1033.9,808.9 L1034.0,811.9 L1034.1,814.9 L1034.2,817.9 L1034.4,820.9 L1034.5,823.9 L1034.6,826.9 L1034.7,829.9 L1034.8,832.9 L1034.9,835.9 L1035.0,838.9 L1035.2,841.9 L1035.3,844.9 L1035.4,847.9 L1035.5,850.9 L1035.6,853.9 L1035.7,856.9 L1035.8,859.9 L1036.0,862.9 L1036.1,865.9 L1036.2,868.9 L1036.3,871.9 L1036.4,874.9 L1036.6,877.9 L1036.7,880.9 L1036.8,883.9 L1036.9,886.9 L1037.1,889.9 L1037.2,892.9 L1037.3,895.9 L1037.4,898.9 L1037.6,901.9 L1037.7,904.9 L1037.9,907.9 L1038.0,910.9 L1038.1,913.9 L1038.3,916.9 L1038.4,919.9 L1038.6,922.9 L1038.7,925.9 L1038.9,928.9 L1039.0,931.9 L1039.2,934.9 L1039.3,937.9 L1039.5,940.9 L1039.7,943.9 L1039.8,946.9 L1040.0,949.9 L1040.2,952.9 L1040.3,955.9 L1040.5,958.9 L1040.7,961.9 L1040.9,964.8 L1041.1,967.8 L1041.4,970.8 L1041.6,973.8 L1041.8,976.8 L1042.0,979.8 L1042.3,982.8 L1042.5,985.8 L1042.7,988.8 L1043.0,991.8 L1043.2,994.8 L1043.5,997.8 L1043.7,1000.8 L1044.0,1003.7 L1044.2,1006.7 L1044.5,1009.7 L1044.7,1012.7 L1045.0,1015.7 L1045.2,1018.7 L1045.5,1021.7 L1045.7,1024.7 L1046.0,1027.7 L1046.2,1030.7 L1046.5,1033.7 L1046.7,1036.7 L1047.0,1039.6 L1047.2,1042.6 L1047.5,1045.6 L1047.7,1048.6 L1047.9,1051.6 L1048.2,1054.6 L1048.4,1057.6 L1048.6,1060.6 L1048.8,1063.6 L1049.0,1066.6 L1049.2,1069.6 L1049.4,1072.6 L1049.6,1075.6 L1049.8,1078.6 L1050.0,1081.6 L1050.2,1084.6 L1050.4,1087.6 L1050.6,1090.6 L1050.9,1093.5 L1051.1,1096.5 L1051.3,1099.5 L1051.5,1102.5 L1051.7,1105.5 L1052.0,1108.5 L1052.2,1111.5 L1052.5,1114.5 L1052.8,1117.5 L1053.0,1120.5 L1053.3,1123.7 L1053.7,1127.3 L1054.0,1131.1 L1054.4,1135.1 L1054.8,1139.1 L1055.2,1142.9 L1055.6,1146.6 L1056.0,1149.9 L1056.4,1152.9 L1056.8,1155.3 L1057.1,1157.1 L1057.5,1158.2 L1057.8,1158.4 L1058.1,1157.7 L1058.4,1156.2 L1058.6,1154.1 L1058.9,1151.3 L1059.2,1148.1 L1059.5,1144.6 L1059.7,1140.8 L1060.0,1136.8 L1060.2,1132.8 L1060.4,1128.9 L1060.7,1125.2 L1060.9,1121.8 L1061.1,1118.7 L1061.3,1115.7 L1061.5,1112.7 L1061.7,1109.7 L1061.9,1106.8 L1062.1,1103.8 L1062.2,1100.8 L1062.4,1097.8 L1062.6,1094.8 L1062.7,1091.8 L1062.9,1088.8 L1063.1,1085.8 L1063.2,1082.8 L1063.4,1079.8 L1063.6,1076.8 L1063.7,1073.8 L1063.9,1070.8 L1064.1,1067.8 L1064.2,1064.8 L1064.4,1061.8 L1064.6,1058.8 L1064.8,1055.8 L1065.0,1052.8 L1065.2,1049.8 L1065.4,1046.8 L1065.6,1043.8 L1065.8,1040.8 L1066.0,1037.8 L1066.3,1034.8 L1066.5,1031.9 L1066.7,1028.9 L1066.9,1025.9 L1067.2,1022.9 L1067.4,1019.9 L1067.6,1016.9 L1067.9,1013.9 L1068.1,1010.9 L1068.4,1007.9 L1068.6,1004.9 L1068.8,1001.9 L1069.0,998.9 L1069.3,995.9 L1069.5,992.9 L1069.7,990.0 L1069.9,987.0 L1070.1,984.0 L1070.3,981.0 L1070.5,978.0 L1070.7,975.0 L1070.9,972.0 L1071.0,969.0 L1071.2,966.0 L1071.4,963.0 L1071.6,960.0 L1071.7,957.0 L1071.9,954.0 L1072.0,951.0 L1072.2,948.0 L1072.3,945.0 L1072.5,942.0 L1072.6,939.0 L1072.8,936.0 L1072.9,933.0 L1073.1,930.0 L1073.2,927.0 L1073.4,924.0 L1073.5,921.0 L1073.7,918.0 L1073.8,915.0 L1073.9,912.0 L1074.1,909.0 L1074.2,906.0 L1074.4,903.0 L1074.5,900.0 L1074.7,897.0 L1074.8,894.0 L1075.0,891.0 L1075.2,888.0 L1075.3,885.0 L1075.5,882.1 L1075.7,879.1 L1075.8,876.1 L1076.0,873.1 L1076.2,870.1 L1076.4,867.1 L1076.6,864.1 L1076.8,861.1 L1077.0,858.1 L1077.2,855.1 L1077.4,852.1 L1077.6,849.1 L1077.8,846.1 L1078.0,843.1 L1078.3,840.1 L1078.5,837.1 L1078.7,834.1 L1079.0,831.1 L1079.2,828.1 L1079.5,825.1 L1079.7,822.2 L1080.0,819.2 L1080.2,816.2 L1080.5,813.2 L1080.8,810.2 L1081.1,807.2 L1081.4,804.2 L1081.7,801.2 L1082.0,798.3 L1082.4,795.3 L1082.7,792.3 L1083.1,789.3 L1083.5,786.1 L1083.9,782.5 L1084.4,778.7 L1084.9,774.8 L1085.4,770.8 L1085.9,767.0 L1086.5,763.3 L1087.0,759.9 L1087.6,757.0 L1088.1,754.5 L1088.7,752.6 L1089.2,751.4 L1089.7,751.0 L1090.2,751.5 L1090.7,752.7 L1091.2,754.7 L1091.8,757.2 L1092.3,760.2 L1092.8,763.6 L1093.3,767.3 L1093.8,771.2 L1094.3,775.1 L1094.7,779.1 L1095.2,782.9 L1095.6,786.4 L1096.0,789.6 L1096.3,792.6 L1096.7,795.6 L1097.0,798.6 L1097.4,801.6 L1097.7,804.5 L1098.0,807.5 L1098.3,810.5 L1098.6,813.5 L1098.9,816.5 L1099.2,819.5 L1099.5,822.5 L1099.8,825.4 L1100.1,828.4 L1100.3,831.4 L1100.6,834.4 L1100.9,837.4 L1101.1,840.4 L1101.4,843.4 L1101.6,846.4 L1101.9,849.4 L1102.2,852.4 L1102.4,855.4 L1102.7,858.3 L1102.9,861.3 L1103.1,864.3 L1103.4,867.3 L1103.6,870.3 L1103.8,873.3 L1104.0,876.3 L1104.2,879.3 L1104.4,882.3 L1104.7,885.3 L1104.9,888.3 L1105.0,891.3 L1105.2,894.3 L1105.4,897.3 L1105.6,900.3 L1105.8,903.3 L1106.0,906.3 L1106.2,909.3 L1106.4,912.3 L1106.6,915.3 L1106.8,918.3 L1107.0,921.3 L1107.2,924.2 L1107.4,927.2 L1107.6,930.2 L1107.8,933.2 L1108.0,936.2 L1108.3,939.2 L1108.5,942.2 L1108.7,945.2 L1109.0,948.2 L1109.2,951.2 L1109.5,954.2 L1109.7,957.1 L1110.0,960.1 L1110.3,963.1 L1110.6,966.1 L1110.9,969.1 L1111.3,972.1 L1111.6,975.0 L1112.0,978.0 L1112.4,981.0 L1112.8,984.0 L1113.2,986.9 L1113.6,989.9 L1114.0,992.9 L1114.4,995.9 L1114.9,998.8 L1115.3,1001.8 L1115.7,1004.8 L1116.2,1007.8 L1116.6,1010.7 L1117.0,1013.7 L1117.5,1016.7 L1117.9,1019.7 L1118.3,1022.6 L1118.7,1025.6 L1119.1,1028.6 L1119.5,1031.6 L1119.9,1034.5 L1120.3,1037.5 L1120.7,1040.5 L1121.0,1043.5 L1121.4,1046.4 L1121.7,1049.4 L1122.0,1052.4 L1122.3,1055.4 L1122.6,1058.4 L1122.8,1061.4 L1123.1,1064.4 L1123.4,1067.3 L1123.6,1070.3 L1123.9,1073.3 L1124.1,1076.3 L1124.3,1079.3 L1124.6,1082.3 L1124.8,1085.3 L1125.0,1088.3 L1125.3,1091.3 L1125.5,1094.3 L1125.7,1097.3 L1125.9,1100.3 L1126.1,1103.3 L1126.4,1106.2 L1126.6,1109.2 L1126.8,1112.2 L1127.0,1115.2 L1127.2,1118.2 L1127.4,1121.2 L1127.6,1124.2 L1127.8,1127.2 L1128.1,1130.2 L1128.3,1133.2 L1128.5,1136.2 L1128.7,1139.2 L1129.0,1142.2 L1129.2,1145.2 L1129.4,1148.2 L1129.7,1151.2 L1129.9,1154.2 L1130.2,1157.3 L1130.4,1160.7 L1130.7,1164.5 L1130.9,1168.4 L1131.1,1172.4 L1131.4,1176.3 L1131.6,1180.1 L1131.9,1183.5 L1132.1,1186.5 L1132.4,1188.9 L1132.7,1190.8 L1133.1,1191.8 L1133.4,1191.9 L1133.8,1190.9 L1134.3,1188.9 L1134.8,1186.1 L1135.3,1182.7 L1135.8,1178.9 L1136.4,1175.0 L1136.9,1171.1 L1137.5,1167.5 L1138.1,1164.4 L1138.7,1161.1 L1139.3,1157.5 L1140.0,1153.7 L1140.6,1149.8 L1141.3,1146.0 L1142.0,1142.3 L1142.7,1139.0 L1143.4,1136.1 L1144.2,1133.8 L1145.0,1132.1 L1145.7,1131.4 L1146.6,1131.7 L1147.5,1133.4 L1148.5,1136.2 L1149.6,1139.7 L1150.5,1143.5 L1151.4,1147.2 L1152.1,1150.4 L1152.6,1153.3 L1153.0,1156.3 L1153.4,1159.4 L1153.7,1162.5 L1154.0,1165.5 L1154.4,1168.6 L1154.7,1171.6 L1155.1,1174.5 L1155.6,1177.4 L1156.2,1180.2 L1157.1,1182.8 L1158.4,1185.3 L1160.1,1187.7 L1162.1,1190.1 L1164.2,1192.5 L1166.2,1194.9 L1168.2,1197.3 L1169.9,1199.8 L1171.3,1202.4 L1172.6,1205.2 L1173.9,1208.0 L1175.1,1210.8 L1176.3,1213.6 L1177.6,1216.2 L1179.1,1218.8 L1180.9,1221.2 L1183.0,1223.9 L1185.4,1226.3 L1187.6,1227.8 L1189.7,1227.7 L1191.7,1226.1 L1193.7,1223.5 L1195.6,1220.4 L1197.1,1217.2 L1198.2,1214.4 L1199.1,1211.8 L1200.0,1209.1 L1200.8,1206.3 L1201.6,1203.5 L1202.3,1200.6 L1203.0,1197.7 L1203.6,1194.8 L1204.3,1191.8 L1204.8,1188.8 L1205.4,1185.8 L1205.9,1182.8 L1206.4,1179.7 L1206.8,1176.7 L1207.3,1173.6 L1207.7,1170.5 L1208.1,1167.5 L1208.5,1164.5 L1208.9,1161.4 L1209.3,1158.4 L1209.6,1155.4 L1210.0,1152.5 L1210.4,1149.5 L1210.7,1146.5 L1211.1,1143.6 L1211.4,1140.6 L1211.7,1137.6 L1212.0,1134.6 L1212.3,1131.6 L1212.6,1128.7 L1212.9,1125.7 L1213.2,1122.7 L1213.5,1119.7 L1213.8,1116.7 L1214.0,1113.7 L1214.3,1110.7 L1214.5,1107.7 L1214.8,1104.7 L1215.0,1101.7 L1215.3,1098.7 L1215.5,1095.7 L1215.8,1092.7 L1216.0,1089.7 L1216.2,1086.7 L1216.4,1083.8 L1216.7,1080.8 L1216.9,1077.8 L1217.1,1074.8 L1217.3,1071.8 L1217.5,1068.8 L1217.8,1065.8 L1218.0,1062.8 L1218.2,1059.8 L1218.4,1056.8 L1218.6,1053.8 L1218.8,1050.8 L1219.0,1047.8 L1219.2,1044.8 L1219.5,1041.8 L1219.6,1038.8 L1219.8,1035.8 L1220.0,1032.8 L1220.2,1029.8 L1220.4,1026.8 L1220.6,1023.8 L1220.8,1020.8 L1220.9,1017.8 L1221.1,1014.8 L1221.3,1011.9 L1221.5,1008.9 L1221.6,1005.9 L1221.8,1002.9 L1222.0,999.9 L1222.2,996.9 L1222.3,993.9 L1222.5,990.9 L1222.7,987.9 L1222.8,984.9 L1223.0,981.9 L1223.2,978.9 L1223.4,975.9 L1223.5,972.9 L1223.7,969.9 L1223.9,966.9 L1224.1,963.9 L1224.3,960.9 L1224.5,957.9 L1224.7,954.9 L1224.9,951.9 L1225.1,948.9 L1225.3,945.9 L1225.5,942.9 L1225.7,939.9 L1225.9,937.0 L1226.1,934.0 L1226.4,931.0 L1226.6,928.0 L1226.8,925.0 L1227.0,922.0 L1227.3,919.0 L1227.5,916.0 L1227.7,913.0 L1228.0,910.0 L1228.2,907.0 L1228.4,904.0 L1228.7,901.0 L1228.9,898.1 L1229.1,895.1 L1229.4,892.1 L1229.6,889.1 L1229.9,886.1 L1230.1,883.1 L1230.3,880.1 L1230.6,877.1 L1230.8,874.1 L1231.0,871.1 L1231.2,868.1 L1231.5,865.1 L1231.7,862.1 L1231.9,859.1 L1232.1,856.2 L1232.3,853.2 L1232.5,850.2 L1232.7,847.2 L1233.0,844.2 L1233.2,841.2 L1233.4,838.2 L1233.6,835.2 L1233.8,832.2 L1234.0,829.2 L1234.2,826.2 L1234.4,823.2 L1234.6,820.2 L1234.8,817.2 L1235.0,814.2 L1235.2,811.2 L1235.4,808.2 L1235.6,805.2 L1235.8,802.2 L1236.0,799.3 L1236.2,796.3 L1236.4,793.3 L1236.6,790.3 L1236.8,787.3 L1237.0,784.3 L1237.2,781.3 L1237.4,778.3 L1237.6,775.3 L1237.8,772.3 L1238.0,769.3 L1238.2,766.3 L1238.4,763.3 L1238.6,760.3 L1238.8,757.3 L1239.0,754.3 L1239.3,751.3 L1239.5,748.3 L1239.7,745.4 L1239.9,742.4 L1240.1,739.4 L1240.4,736.4 L1240.6,733.4 L1240.8,730.4 L1241.0,727.4 L1241.3,724.4 L1241.5,721.4 L1241.7,718.4 L1242.0,715.4 L1242.2,712.4 L1242.4,709.4 L1242.6,706.4 L1242.9,703.5 L1243.1,700.5 L1243.4,697.5 L1243.6,694.5 L1243.8,691.5 L1244.1,688.5 L1244.3,685.5 L1244.5,682.5 L1244.8,679.5 L1245.0,676.5 L1245.3,673.5 L1245.5,670.5 L1245.8,667.5 L1246.0,664.6 L1246.3,661.6 L1246.5,658.6 L1246.7,655.6 L1247.0,652.6 L1247.3,649.6 L1247.5,646.6 L1247.8,643.6 L1248.0,640.6 L1248.3,637.6 L1248.6,634.7 L1248.8,631.7 L1249.1,628.7 L1249.4,625.7 L1249.6,622.7 L1249.9,619.7 L1250.2,616.7 L1250.5,613.7 L1250.7,610.7 L1251.0,607.8 L1251.3,604.8 L1251.5,601.8 L1251.8,598.8 L1252.1,595.8 L1252.3,592.8 L1252.6,589.8 L1252.9,586.8 L1253.2,583.8 L1253.4,580.8 L1253.7,577.9 L1254.0,574.9 L1254.3,571.9 L1254.6,568.9 L1254.9,565.9 L1255.2,562.9 L1255.5,559.9 L1255.8,556.9 L1256.1,554.0 L1256.4,551.0 L1256.7,548.0 L1257.0,545.0 L1257.4,542.0 L1257.7,539.0 L1258.1,536.1 L1258.5,533.1 L1258.9,530.1 L1259.4,527.2 L1259.9,524.2 L1260.3,521.2 L1260.8,518.3 L1261.3,515.3 L1261.8,512.4 L1262.4,509.4 L1262.9,506.4 L1263.4,503.5 L1263.9,500.5 L1264.4,497.6 L1264.9,494.6 L1265.4,491.6 L1265.9,488.7 L1266.5,485.7 L1267.0,482.8 L1267.5,479.8 L1268.0,476.8 L1268.6,473.9 L1269.2,471.0 L1269.7,468.0 L1270.3,465.1 L1271.0,462.1 L1271.6,459.2 L1272.3,456.3 L1273.0,453.4 L1273.7,450.4 L1274.4,447.5 L1275.2,444.6 L1275.9,441.7 L1276.7,438.8 L1277.6,435.9 L1278.4,433.0 L1279.3,430.2 L1280.2,427.3 L1281.2,424.5 L1282.2,421.7 L1283.2,418.9 L1284.3,416.0 L1285.5,413.3 L1286.6,410.5 L1287.8,407.7 L1289.1,405.0 L1290.3,402.3 L1291.6,399.6 L1293.0,396.9 L1294.4,394.2 L1295.9,391.5 L1297.4,389.0 L1299.0,386.4 L1300.7,384.0 L1302.5,381.7 L1304.5,379.4 L1306.6,377.2 L1308.7,375.1 L1310.9,373.0 L1313.1,371.0 L1315.4,369.1 L1317.8,367.2 L1320.2,365.5 L1322.7,363.7 L1325.1,361.9 L1327.5,360.2 L1330.0,358.5 L1332.5,356.8 L1335.0,355.1 L1337.4,353.4 L1339.9,351.7 L1342.5,350.1 L1345.0,348.5 L1347.5,346.8 L1349.9,345.1 L1352.3,343.2 L1354.6,341.2 L1356.8,339.3 L1359.1,337.3 L1361.4,335.1 L1363.7,332.8 L1366.2,331.9 L1369.2,332.2 L1372.3,332.7 L1374.9,332.3 L1377.1,329.7 L1379.4,328.0 L1382.3,328.3 L1385.4,328.9 L1388.3,328.7 L1391.0,327.1 L1393.7,325.6 L1396.5,325.7 L1399.5,327.3 L1401.8,329.3 L1403.0,331.5 L1403.7,334.1 L1404.3,337.1 L1404.7,340.3 L1405.3,343.6 L1405.9,346.6 L1406.8,349.9 L1407.7,353.7 L1408.8,356.8 L1409.8,358.3 L1410.7,357.3 L1411.6,354.3 L1412.6,350.6 L1413.6,347.2 L1414.8,344.0 L1416.2,340.9 L1418.1,339.9 L1421.6,339.9 L1423.5,340.0 L1424.2,341.6 L1424.8,344.4 L1425.1,348.1 L1425.5,352.0 L1425.9,355.6 L1426.3,358.7 L1426.7,361.7 L1427.0,364.7 L1427.5,367.7 L1428.2,370.5 L1429.5,373.9 L1431.0,375.4 L1432.2,373.6 L1433.3,370.2 L1434.4,366.7 L1435.3,363.4 L1436.0,359.7 L1436.9,357.0 L1438.6,356.8 L1441.8,358.2 L1443.6,360.0 L1445.1,362.6 L1446.3,365.6 L1447.5,368.6 L1448.6,371.4 L1449.6,374.3 L1450.5,377.1 L1451.4,380.0 L1452.3,382.9 L1453.1,385.8 L1453.9,388.7 L1454.6,391.6 L1455.2,394.5 L1455.7,397.5 L1456.1,400.5 L1456.4,403.5 L1456.7,406.5 L1457.1,409.5 L1457.6,412.3 L1458.6,415.1 L1460.0,417.8 L1461.5,420.5 L1462.6,423.3 L1463.5,426.1 L1464.3,429.0 L1465.0,431.9 L1465.7,434.9 L1466.4,437.8 L1467.1,440.7 L1467.9,443.6 L1468.6,446.6 L1469.4,449.5 L1470.2,452.4 L1470.8,455.3 L1471.5,458.2 L1472.0,461.2 L1472.4,464.1 L1472.8,467.1 L1473.2,470.1 L1473.5,473.0 L1473.8,476.0 L1474.1,479.0 L1474.4,482.0 L1474.7,485.0 L1474.9,488.0 L1475.2,491.0 L1475.5,494.0 L1475.8,497.0 L1476.1,500.0 L1476.4,503.0 L1476.7,505.9 L1477.0,508.9 L1477.3,511.9 L1477.6,514.9 L1477.9,517.9 L1478.2,520.9 L1478.5,523.9 L1478.8,526.9 L1479.1,529.8 L1479.3,532.8 L1479.6,535.8 L1479.8,538.8 L1480.0,541.8 L1480.3,544.8 L1480.5,547.8 L1480.7,550.8 L1480.9,553.8 L1481.1,556.8 L1481.3,559.8 L1481.4,562.8 L1481.6,565.8 L1481.8,568.8 L1482.0,571.8 L1482.2,574.8 L1482.3,577.7 L1482.5,580.7 L1482.7,583.7 L1482.9,586.7 L1483.0,589.7 L1483.2,592.7 L1483.4,595.7 L1483.5,598.7 L1483.7,601.7 L1483.8,604.7 L1484.0,607.7 L1484.1,610.7 L1484.3,613.7 L1484.5,616.7 L1484.6,619.7 L1484.8,622.7 L1484.9,625.7 L1485.0,628.7 L1485.2,631.7 L1485.3,634.7 L1485.5,637.7 L1485.6,640.7 L1485.8,643.7 L1485.9,646.7 L1486.0,649.7 L1486.2,652.7 L1486.3,655.7 L1486.5,658.7 L1486.6,661.7 L1486.7,664.7 L1486.9,667.7 L1487.0,670.7 L1487.1,673.7 L1487.3,676.7 L1487.4,679.7 L1487.5,682.7 L1487.7,685.7 L1487.8,688.7 L1487.9,691.7 L1488.1,694.7 L1488.2,697.7 L1488.3,700.7 L1488.4,703.7 L1488.6,706.7 L1488.7,709.7 L1488.8,712.7 L1488.9,715.7 L1489.1,718.7 L1489.2,721.7 L1489.3,724.7 L1489.4,727.7 L1489.6,730.7 L1489.7,733.7 L1489.8,736.7 L1489.9,739.7 L1490.0,742.7 L1490.2,745.6 L1490.3,748.6 L1490.4,751.6 L1490.5,754.6 L1490.6,757.6 L1490.8,760.6 L1490.9,763.6 L1491.0,766.6 L1491.1,769.6 L1491.2,772.6 L1491.3,775.6 L1491.4,778.6 L1491.6,781.6 L1491.7,784.6 L1491.8,787.6 L1491.9,790.6 L1492.0,793.6 L1492.1,796.6 L1492.2,799.6 L1492.3,802.6 L1492.5,805.6 L1492.6,808.6 L1492.7,811.6 L1492.8,814.6 L1492.9,817.6 L1493.0,820.6 L1493.1,823.6 L1493.2,826.6 L1493.4,829.6 L1493.5,832.6 L1493.6,835.6 L1493.7,838.6 L1493.8,841.6 L1493.9,844.6 L1494.0,847.6 L1494.1,850.6 L1494.2,853.6 L1494.4,856.6 L1494.5,859.6 L1494.6,862.6 L1494.7,865.6 L1494.8,868.6 L1494.9,871.6 L1495.0,874.6 L1495.1,877.6 L1495.3,880.6 L1495.4,883.6 L1495.5,886.6 L1495.6,889.6 L1495.7,892.6 L1495.8,895.6 L1495.9,898.6 L1496.1,901.6 L1496.2,904.6 L1496.3,907.6 L1496.4,910.6 L1496.5,913.6 L1496.6,916.6 L1496.7,919.6 L1496.8,922.6 L1496.9,925.6 L1496.9,928.6 L1497.0,931.6 L1497.1,934.7 L1497.2,937.7 L1497.3,940.7 L1497.4,943.7 L1497.5,946.7 L1497.6,949.7 L1497.7,952.7 L1497.8,955.7 L1497.9,958.7 L1498.0,961.7 L1498.1,964.7 L1498.2,967.7 L1498.3,970.7 L1498.4,973.7 L1498.6,976.7 L1498.7,979.7 L1498.8,982.7 L1499.0,985.7 L1499.1,988.7 L1499.3,991.6 L1499.5,994.6 L1499.7,997.6 L1499.9,1000.6 L1500.1,1003.6 L1500.3,1007.0 L1500.7,1010.7 L1501.1,1014.7 L1501.6,1018.6 L1502.0,1022.4 L1502.5,1025.9 L1503.0,1028.9 L1503.5,1031.2 L1504.0,1032.8 L1504.4,1033.3 L1504.8,1032.8 L1505.2,1031.2 L1505.6,1028.9 L1506.0,1025.9 L1506.4,1022.4 L1506.7,1018.5 L1507.1,1014.6 L1507.4,1010.7 L1507.7,1006.9 L1507.9,1003.5 L1508.2,1000.5 L1508.4,997.5 L1508.6,994.5 L1508.8,991.5 L1509.0,988.5 L1509.1,985.6 L1509.3,982.6 L1509.5,979.6 L1509.7,976.6 L1509.8,973.6 L1510.0,970.6 L1510.1,967.6 L1510.3,964.6 L1510.4,961.6 L1510.5,958.6 L1510.7,955.6 L1510.8,952.6 L1510.9,949.6 L1511.1,946.6 L1511.2,943.6 L1511.3,940.6 L1511.4,937.6 L1511.6,934.6 L1511.7,931.6 L1511.8,928.6 L1511.9,925.6 L1512.0,922.6 L1512.2,919.6 L1512.3,916.6 L1512.4,913.6 L1512.5,910.6 L1512.7,907.6 L1512.8,904.6 L1513.0,901.6 L1513.1,898.6 L1513.2,895.6 L1513.4,892.6 L1513.5,889.6 L1513.6,886.6 L1513.7,883.6 L1513.9,880.6 L1514.0,877.6 L1514.1,874.6 L1514.2,871.6 L1514.3,868.6 L1514.5,865.6 L1514.6,862.6 L1514.7,859.6 L1514.8,856.6 L1514.9,853.6 L1515.1,850.6 L1515.2,847.6 L1515.3,844.6 L1515.4,841.6 L1515.6,838.6 L1515.7,835.6 L1515.8,832.6 L1515.9,829.6 L1516.1,826.6 L1516.2,823.6 L1516.4,820.6 L1516.5,817.6 L1516.6,814.6 L1516.8,811.6 L1517.0,808.6 L1517.1,805.6 L1517.3,802.6 L1517.4,799.6 L1517.6,796.6 L1517.7,793.6 L1517.8,790.6 L1518.0,787.6 L1518.1,784.6 L1518.3,781.6 L1518.4,778.6 L1518.6,775.5 L1518.7,772.5 L1518.9,769.5 L1519.1,766.5 L1519.3,763.5 L1519.5,760.5 L1519.6,757.5 L1519.9,754.5 L1520.1,751.5 L1520.3,748.6 L1520.6,745.6 L1520.8,742.6 L1521.1,739.6 L1521.4,736.7 L1521.7,733.7 L1522.0,730.7 L1522.5,727.8 L1523.1,724.9 L1523.9,721.9 L1524.7,719.0 L1525.6,716.1 L1526.4,713.2 L1527.1,710.3 L1527.7,707.4 L1528.1,704.4 L1528.3,701.5 L1528.6,698.5 L1528.8,695.5 L1529.1,692.6 L1529.3,689.6 L1529.5,686.6 L1529.7,683.6 L1529.9,680.6 L1530.1,677.7 L1530.3,674.7 L1530.4,671.7 L1530.6,668.7 L1530.8,665.7 L1530.9,662.7 L1531.0,659.7 L1531.2,656.7 L1531.3,653.6 L1531.4,650.6 L1531.5,647.6 L1531.7,644.6 L1531.8,641.6 L1531.9,638.6 L1532.0,635.6 L1532.1,632.6 L1532.2,629.6 L1532.3,626.5 L1532.4,623.5 L1532.6,620.5 L1532.7,617.5 L1532.8,614.5 L1532.9,611.5 L1533.0,608.5 L1533.2,605.5 L1533.3,602.5 L1533.4,599.5 L1533.6,596.5 L1533.7,593.5 L1533.8,590.5 L1533.9,587.5 L1534.1,584.5 L1534.2,581.5 L1534.3,578.5 L1534.4,575.5 L1534.5,572.5 L1534.6,569.5 L1534.7,566.5 L1534.9,563.5 L1535.0,560.5 L1535.1,557.5 L1535.2,554.5 L1535.4,551.5 L1535.5,548.5 L1535.7,545.5 L1535.9,542.5 L1536.0,539.5 L1536.2,536.5 L1536.4,533.5 L1536.5,530.4 L1536.7,527.4 L1536.9,524.4 L1537.1,521.3 L1537.4,518.3 L1537.7,515.3 L1538.0,512.3 L1538.3,509.4 L1538.8,506.5 L1539.3,503.6 L1540.4,500.2 L1542.0,496.6 L1543.6,493.5 L1545.1,491.2 L1546.1,490.5 L1546.7,491.0 L1547.4,492.3 L1548.0,494.3 L1548.5,496.8 L1549.0,499.8 L1549.4,503.2 L1549.8,506.9 L1550.2,510.8 L1550.6,514.7 L1551.0,518.7 L1551.3,522.5 L1551.6,526.1 L1551.9,529.3 L1552.2,532.3 L1552.5,535.3 L1552.8,538.3 L1553.0,541.3 L1553.3,544.3 L1553.5,547.3 L1553.7,550.3 L1553.9,553.3 L1554.1,556.3 L1554.4,559.3 L1554.6,562.2 L1554.8,565.2 L1555.0,568.2 L1555.2,571.2 L1555.5,574.2 L1555.7,577.2 L1556.0,580.2 L1556.3,583.5 L1556.6,587.1 L1556.9,591.0 L1557.3,594.9 L1557.6,598.8 L1558.0,602.6 L1558.3,606.0 L1558.7,609.0 L1559.1,611.4 L1559.5,613.1 L1559.9,613.9 L1560.3,613.8 L1560.7,612.8 L1561.2,611.0 L1561.7,608.6 L1562.2,605.6 L1562.7,602.2 L1563.2,598.5 L1563.7,594.7 L1564.1,590.7 L1564.6,586.8 L1565.0,583.0 L1565.3,579.5 L1565.7,576.4 L1565.9,573.4 L1566.2,570.5 L1566.5,567.5 L1566.7,564.5 L1567.0,561.5 L1567.2,558.5 L1567.4,555.5 L1567.6,552.5 L1567.8,549.5 L1568.0,546.5 L1568.2,543.5 L1568.3,540.5 L1568.5,537.5 L1568.7,534.5 L1568.9,531.5 L1569.1,528.5 L1569.2,525.5 L1569.4,522.5 L1569.6,519.5 L1569.8,516.5 L1570.0,513.5 L1570.2,510.5 L1570.4,507.5 L1570.6,504.6 L1570.9,501.6 L1571.1,498.6 L1571.4,495.6 L1571.6,492.6 L1571.8,489.6 L1572.1,486.6 L1572.3,483.5 L1572.5,480.5 L1572.8,477.5 L1573.0,474.5 L1573.3,471.5 L1573.5,468.5 L1573.8,465.5 L1574.1,462.5 L1574.4,459.5 L1574.7,456.5 L1575.1,453.6 L1575.4,450.6 L1575.8,447.6 L1576.3,444.7 L1576.7,441.8 L1577.2,438.8 L1577.8,435.4 L1578.4,431.7 L1579.1,427.9 L1580.0,424.3 L1581.0,421.1 L1582.2,418.7 L1583.5,417.1 L1585.0,416.7 L1587.9,416.7 L1591.5,416.7 L1594.5,416.7 L1596.2,417.2 L1597.7,419.0 L1599.0,421.8 L1600.1,425.3 L1601.0,429.0 L1601.7,432.6 L1602.1,435.7 L1602.4,438.6 L1602.7,441.5 L1602.9,444.4 L1603.2,447.4 L1603.4,450.3 L1603.6,453.3 L1603.7,456.3 L1603.9,459.3 L1604.0,462.3 L1604.2,465.3 L1604.3,468.4 L1604.4,471.4 L1604.5,474.4 L1604.6,477.5 L1604.7,480.5 L1604.9,483.5 L1605.0,486.6 L1605.1,489.6 L1605.2,492.6 L1605.4,495.6 L1605.5,498.6 L1605.7,501.6 L1605.9,504.6 L1606.0,507.6 L1606.2,510.6 L1606.4,513.6 L1606.5,516.6 L1606.7,519.6 L1606.9,522.6 L1607.1,525.6 L1607.2,528.6 L1607.4,531.6 L1607.6,534.6 L1607.7,537.6 L1607.9,540.6 L1608.1,543.6 L1608.3,546.6 L1608.4,549.6 L1608.6,552.6 L1608.8,555.6 L1609.0,558.6 L1609.1,561.6 L1609.3,564.6 L1609.5,567.5 L1609.6,570.5 L1609.8,573.5 L1610.0,576.5 L1610.2,579.5 L1610.3,582.5 L1610.5,585.5 L1610.7,588.5 L1610.9,591.5 L1611.0,594.5 L1611.2,597.5 L1611.4,600.5 L1611.6,603.5 L1611.7,606.5 L1611.9,609.5 L1612.0,612.5 L1612.2,615.5 L1612.4,618.5 L1612.5,621.5 L1612.7,624.5 L1612.8,627.5 L1613.0,630.5 L1613.1,633.5 L1613.3,636.5 L1613.4,639.5 L1613.6,642.5 L1613.7,645.5 L1613.9,648.5 L1614.1,651.5 L1614.2,654.5 L1614.4,657.5 L1614.6,660.5 L1614.8,663.5 L1615.0,666.5 L1615.2,669.4 L1615.4,672.4 L1615.6,675.4 L1615.9,678.4 L1616.1,681.5 L1616.4,685.0 L1616.7,688.9 L1617.1,692.8 L1617.4,696.7 L1617.8,700.1 L1618.2,703.0 L1618.6,705.0 L1618.9,706.0 L1619.3,705.6 L1619.6,704.1 L1620.0,701.6 L1620.3,698.4 L1620.7,694.8 L1621.1,690.8 L1621.4,686.9 L1621.7,683.2 L1622.0,679.9 L1622.3,676.9 L1622.6,673.9 L1622.9,670.9 L1623.1,668.0 L1623.4,665.0 L1623.7,662.0 L1623.9,659.0 L1624.2,656.0 L1624.4,653.0 L1624.7,650.0 L1624.9,647.0 L1625.2,644.0 L1625.4,641.0 L1625.6,638.0 L1625.8,635.0 L1626.1,632.0 L1626.3,629.1 L1626.5,626.1 L1626.7,623.1 L1626.9,620.1 L1627.1,617.1 L1627.3,614.1 L1627.5,611.1 L1627.7,608.1 L1627.9,605.1 L1628.0,602.1 L1628.2,599.1 L1628.4,596.1 L1628.5,593.1 L1628.7,590.1 L1628.8,587.1 L1628.9,584.1 L1629.1,581.1 L1629.2,578.1 L1629.3,575.1 L1629.4,572.1 L1629.5,569.1 L1629.7,566.1 L1629.8,563.1 L1629.9,560.1 L1630.0,557.1 L1630.1,554.1 L1630.2,551.1 L1630.3,548.1 L1630.4,545.1 L1630.5,542.1 L1630.6,539.1 L1630.8,536.1 L1630.9,533.1 L1631.0,530.1 L1631.1,527.1 L1631.3,524.1 L1631.4,521.1 L1631.6,518.1 L1631.7,515.1 L1631.9,512.1 L1632.0,509.1 L1632.2,506.1 L1632.4,503.1 L1632.6,500.1 L1632.8,497.2 L1633.0,494.2 L1633.3,491.2 L1633.6,488.2 L1633.9,485.2 L1634.2,482.2 L1634.5,479.2 L1634.9,476.3 L1635.2,473.3 L1635.6,470.3 L1635.9,467.3 L1636.3,464.3 L1636.6,461.3 L1637.0,458.4 L1637.3,455.4 L1637.7,452.4 L1638.0,449.4 L1638.4,446.4 L1638.7,443.4 L1639.0,440.5 L1639.2,437.5 L1639.5,434.5 L1639.8,431.5 L1640.0,428.5 L1640.3,425.5 L1640.6,422.5 L1640.8,419.5 L1641.1,416.5 L1641.4,413.5 L1641.7,410.5 L1642.0,407.6 L1642.3,404.6 L1642.6,401.6 L1643.0,398.6 L1643.3,395.6 L1643.7,392.7 L1644.1,389.7 L1644.5,386.6 L1644.9,383.5 L1645.3,380.4 L1645.8,377.3 L1646.3,374.2 L1646.8,371.2 L1647.3,368.2 L1648.0,365.2 L1648.7,362.4 L1649.4,359.6 L1650.3,357.0 L1651.2,354.4 L1652.7,351.6 L1654.7,348.7 L1657.1,346.1 L1659.4,344.3 L1661.6,343.6 L1663.8,344.4 L1666.1,346.4 L1668.4,349.1 L1670.3,352.1 L1671.7,354.8 L1672.7,357.4 L1673.5,360.1 L1674.2,362.8 L1674.8,365.7 L1675.3,368.7 L1675.8,371.7 L1676.3,374.8 L1676.7,377.9 L1677.2,381.0 L1677.7,384.0 L1678.2,387.1 L1678.7,390.1 L1679.4,393.1 L1680.1,396.0 L1680.8,398.9 L1681.6,401.8 L1682.4,404.7 L1683.2,407.6 L1684.1,410.5 L1685.0,413.4 L1686.0,416.2 L1687.0,419.0 L1688.1,421.7 L1689.4,424.5 L1690.8,427.1 L1692.2,429.8 L1693.7,432.4 L1695.2,435.1 L1696.6,437.7 L1698.0,440.4 L1699.2,443.1 L1700.3,445.9 L1701.4,448.7 L1702.4,451.5 L1703.4,454.4 L1704.3,457.2 L1705.2,460.1 L1706.0,463.0 L1706.7,465.9 L1707.4,468.9 L1707.9,471.8 L1708.4,474.7 L1708.9,477.7 L1709.4,480.6 L1709.8,483.6 L1710.1,486.6 L1710.5,489.6 L1710.8,492.6 L1711.2,495.6 L1711.5,498.5 L1711.9,501.5 L1712.2,504.5 L1712.6,507.5 L1713.0,510.5 L1713.4,513.5 L1713.8,516.4 L1714.2,519.4 L1714.6,522.4 L1715.1,525.4 L1715.5,528.3 L1715.9,531.3 L1716.3,534.3 L1716.7,537.2 L1717.1,540.2 L1717.5,543.2 L1717.8,546.2 L1718.2,549.2 L1718.6,552.6 L1718.9,556.2 L1719.3,560.1 L1719.6,564.0 L1719.9,568.0 L1720.3,571.9 L1720.6,575.7 L1720.9,579.2 L1721.2,582.5 L1721.6,585.4 L1721.9,587.8 L1722.2,589.7 L1722.6,590.9 L1722.9,591.5 L1723.3,591.2 L1723.7,589.8 L1724.0,587.7 L1724.4,584.8 L1724.8,581.5 L1725.2,577.7 L1725.6,573.8 L1725.9,569.9 L1726.3,566.0 L1726.7,562.5 L1727.1,559.3 L1727.5,556.4 L1727.9,553.4 L1728.3,550.4 L1728.7,547.4 L1729.1,544.5 L1729.5,541.5 L1729.9,538.5 L1730.2,535.5 L1730.6,532.5 L1730.9,529.6 L1731.1,526.6 L1731.3,523.6 L1731.6,520.6 L1731.8,517.6 L1732.0,514.6 L1732.1,511.6 L1732.3,508.6 L1732.5,505.6 L1732.6,502.6 L1732.8,499.6 L1732.9,496.6 L1733.1,493.6 L1733.2,490.6 L1733.4,487.6 L1733.5,484.6 L1733.7,481.6 L1733.8,478.6 L1734.0,475.6 L1734.1,472.6 L1734.3,469.6 L1734.5,466.6 L1734.7,463.6 L1734.9,460.6 L1735.1,457.6 L1735.3,454.7 L1735.5,451.7 L1735.8,448.6 L1736.0,445.6 L1736.2,442.6 L1736.5,439.6 L1736.7,436.6 L1737.0,433.6 L1737.3,430.6 L1737.5,427.6 L1737.9,424.6 L1738.2,421.7 L1738.5,418.7 L1738.9,415.7 L1739.3,412.8 L1739.7,409.8 L1740.1,406.9 L1740.7,403.9 L1741.3,401.0 L1742.0,398.1 L1742.8,395.2 L1743.6,392.3 L1744.5,389.4 L1745.5,386.5 L1746.4,383.7 L1747.4,380.8 L1748.3,378.0 L1749.3,375.1 L1750.3,372.3 L1751.3,369.4 L1752.3,366.5 L1753.4,363.7 L1754.5,360.9 L1755.7,358.1 L1756.9,355.3 L1758.2,352.6 L1759.5,349.9 L1760.9,347.3 L1762.3,344.7 L1763.8,342.3 L1765.5,339.9 L1767.4,337.6 L1769.4,335.3 L1771.5,333.0 L1773.6,330.8 L1775.7,328.7 L1777.8,326.5 L1779.9,324.3 L1782.1,322.2 L1784.3,320.1 L1786.6,318.1 L1788.8,316.0 L1790.9,313.8 L1792.8,311.6 L1794.5,309.3 L1796.0,306.8 L1797.4,304.1 L1798.6,301.4 L1799.9,298.6 L1801.1,295.8 L1802.4,293.0 L1803.7,290.3 L1805.1,287.7 L1806.5,285.0 L1807.9,282.3 L1809.3,279.7 L1810.7,277.0 L1812.2,274.4 L1813.7,271.8 L1815.3,269.3 L1816.9,266.8 L1818.6,264.3 L1820.4,261.8 L1822.2,259.2 L1824.1,256.8 L1826.1,254.5 L1828.2,252.5 L1830.4,250.7 L1832.9,249.1 L1835.6,247.6 L1838.4,246.5 L1841.3,245.7 L1844.2,245.2 L1847.2,244.8 L1850.3,244.4 L1853.4,244.1 L1856.5,243.8 L1859.5,243.5 L1862.4,243.0 L1865.2,242.4 L1867.8,241.5 L1870.3,240.1 L1872.8,238.4 L1875.2,236.3 L1877.5,234.2 L1879.7,232.0 L1881.9,229.9 L1883.8,227.6 L1885.7,225.1 L1887.5,222.5 L1889.3,220.0 L1891.2,217.8 L1893.3,215.9 L1895.7,214.4 L1898.4,213.0 L1901.2,211.7 L1904.1,210.7 L1907.0,210.0 L1909.9,209.4 L1913.0,209.0 L1916.0,208.6 L1919.1,208.3 L1922.2,208.0 L1925.2,207.7 L1928.1,207.3 L1931.0,206.7 L1933.6,206.0 L1936.1,204.7 L1938.5,202.9 L1940.8,200.8 L1943.2,198.7 L1945.5,196.6 L1948.0,194.9 L1950.6,193.3 L1953.2,191.6 L1955.8,190.1 L1958.5,188.7 L1961.2,187.6 L1964.0,186.7 L1966.9,186.1 L1969.8,185.6 L1972.8,185.2 L1975.8,184.8 L1978.9,184.5 L1981.9,184.1 L1984.9,183.7 L1987.9,183.3 L1990.9,182.7 L1993.7,182.1 L1996.5,181.0 L1999.1,179.3 L2001.8,177.5 L2004.4,176.1 L2007.1,175.6 L2009.9,176.0 L2012.7,177.0 L2015.5,178.4 L2018.3,179.9 L2021.0,181.5 L2023.6,182.9 L2026.1,184.6 L2028.5,186.4 L2030.9,188.3 L2033.4,190.0 L2036.0,191.5 L2038.7,192.9 L2041.5,194.1 L2044.2,195.4 L2046.8,196.8 L2049.2,198.4 L2051.5,200.3 L2053.8,202.3 L2056.0,204.5 L2058.0,206.8 L2059.9,209.1 L2061.7,211.4 L2063.4,213.9 L2065.0,216.4 L2066.5,219.1 L2067.9,221.7 L2069.3,224.4 L2070.6,227.2 L2071.8,229.9 L2073.0,232.6 L2074.2,235.4 L2075.3,238.2 L2076.3,241.1 L2077.2,243.9 L2078.1,246.8 L2078.9,249.7 L2079.6,252.6 L2080.2,255.5 L2080.9,258.4 L2081.5,261.4 L2082.0,264.3 L2082.5,267.3 L2083.0,270.3 L2083.5,273.2 L2084.0,276.2 L2084.4,279.2 L2084.9,282.1 L2085.3,285.1 L2085.7,288.1 L2086.1,291.1 L2086.4,294.1 L2086.8,297.0 L2087.1,300.0 L2087.3,303.0 L2087.6,306.0 L2087.8,309.0 L2088.0,312.0 L2088.1,315.0 L2088.3,318.0 L2088.5,321.0 L2088.6,324.0 L2088.7,327.0 L2088.9,330.0 L2089.0,333.0 L2089.1,336.0 L2089.2,339.0 L2089.4,342.0 L2089.5,345.0 L2089.6,348.0 L2089.7,351.0 L2089.9,354.0 L2090.0,357.0 L2090.2,360.0 L2090.3,363.0 L2090.5,366.0 L2090.7,369.0 L2090.8,372.0 L2091.0,375.0 L2091.1,378.0 L2091.3,381.0 L2091.5,384.0 L2091.6,387.0 L2091.8,389.9 L2091.9,392.9 L2092.1,395.9 L2092.3,398.9 L2092.4,401.9 L2092.6,404.9 L2092.7,407.9 L2092.9,410.9 L2093.0,413.9 L2093.1,416.9 L2093.3,419.9 L2093.4,422.9 L2093.6,425.9 L2093.7,428.9 L2093.8,431.9 L2094.0,434.9 L2094.1,437.9 L2094.2,440.9 L2094.4,443.9 L2094.5,446.9 L2094.6,449.9 L2094.7,452.9 L2094.9,455.9 L2095.0,458.9 L2095.1,461.9 L2095.3,464.9 L2095.4,467.9 L2095.5,470.9 L2095.6,473.9 L2095.8,476.9 L2095.9,479.9 L2096.0,482.9 L2096.1,485.9 L2096.3,488.9 L2096.4,491.9 L2096.5,494.9 L2096.6,497.9 L2096.7,500.9 L2096.9,503.9 L2097.0,506.9 L2097.1,509.9 L2097.2,512.9 L2097.3,515.9 L2097.5,518.9 L2097.6,521.9 L2097.7,524.9 L2097.8,527.9 L2097.9,530.9 L2098.0,533.9 L2098.1,536.9 L2098.2,539.9 L2098.3,542.9 L2098.4,545.9 L2098.5,548.9 L2098.6,551.9 L2098.7,554.9 L2098.8,557.9 L2098.9,560.9 L2099.0,563.9 L2099.1,566.9 L2099.2,569.9 L2099.3,572.9 L2099.4,575.9 L2099.5,578.9 L2099.6,581.9 L2099.8,584.9 L2099.9,587.9 L2100.0,590.9 L2100.2,594.4 L2100.4,598.2 L2100.6,602.2 L2100.7,606.1 L2100.9,609.6 L2101.1,612.6 L2101.3,614.8 L2101.5,615.9 L2101.7,615.7 L2101.9,614.4 L2102.1,612.0 L2102.3,608.9 L2102.5,605.2 L2102.7,601.3 L2102.9,597.3 L2103.0,593.5 L2103.2,590.2 L2103.3,587.2 L2103.5,584.2 L2103.6,581.2 L2103.7,578.2 L2103.8,575.2 L2104.0,572.2 L2104.1,569.2 L2104.2,566.2 L2104.3,563.2 L2104.4,560.2 L2104.5,557.2 L2104.6,554.2 L2104.7,551.2 L2104.8,548.2 L2104.9,545.2 L2105.0,542.2 L2105.1,539.2 L2105.2,536.2 L2105.3,533.2 L2105.4,530.2 L2105.5,527.2 L2105.6,524.2 L2105.7,521.2 L2105.9,518.2 L2106.0,515.2 L2106.1,512.2 L2106.2,509.2 L2106.3,506.2 L2106.4,503.2 L2106.5,500.2 L2106.6,497.2 L2106.7,494.2 L2106.8,491.2 L2106.9,488.2 L2107.0,485.2 L2107.1,482.2 L2107.2,479.2 L2107.3,476.2 L2107.4,473.2 L2107.5,470.2 L2107.6,467.2 L2107.7,464.2 L2107.8,461.2 L2107.9,458.2 L2108.1,455.2 L2108.2,452.2 L2108.3,449.2 L2108.4,446.2 L2108.5,443.2 L2108.7,440.2 L2108.8,437.2 L2108.9,434.2 L2109.1,431.2 L2109.2,428.2 L2109.4,425.2 L2109.5,422.2 L2109.7,419.2 L2109.9,416.2 L2110.0,413.2 L2110.2,410.2 L2110.4,407.2 L2110.6,404.3 L2110.8,401.3 L2111.0,398.3 L2111.1,395.3 L2111.3,392.3 L2111.5,389.3 L2111.7,386.3 L2111.9,383.3 L2112.1,380.3 L2112.3,377.3 L2112.5,374.3 L2112.7,371.3 L2112.9,368.3 L2113.0,365.3 L2113.2,362.3 L2113.4,359.3 L2113.6,356.3 L2113.8,353.3 L2114.0,350.3 L2114.3,347.3 L2114.5,344.3 L2114.7,341.3 L2115.0,338.4 L2115.3,335.4 L2115.5,332.4 L2115.8,329.4 L2116.2,326.4 L2116.5,323.4 L2116.8,320.3 L2117.2,317.3 L2117.7,314.3 L2118.2,311.4 L2118.8,308.5 L2119.4,305.6 L2120.4,302.5 L2121.8,299.1 L2123.5,296.3 L2124.9,295.4 L2126.3,296.6 L2127.7,299.2 L2129.0,302.6 L2130.2,306.2 L2130.9,309.6 L2131.4,312.5 L2131.8,315.3 L2132.2,318.3 L2132.5,321.2 L2132.8,324.2 L2133.1,327.2 L2133.3,330.2 L2133.6,333.2 L2133.8,336.2 L2134.0,339.3 L2134.2,342.3 L2134.3,345.4 L2134.5,348.4 L2134.7,351.4 L2134.9,354.4 L2135.1,357.4 L2135.2,360.4 L2135.4,363.4 L2135.6,366.4 L2135.7,369.4 L2135.9,372.4 L2136.0,375.4 L2136.2,378.4 L2136.3,381.4 L2136.5,384.4 L2136.6,387.4 L2136.7,390.4 L2136.9,393.4 L2137.0,396.4 L2137.1,399.4 L2137.3,402.4 L2137.4,405.4 L2137.5,408.4 L2137.7,411.4 L2137.8,414.4 L2137.9,417.4 L2138.1,420.4 L2138.2,423.4 L2138.3,426.4 L2138.5,429.4 L2138.6,432.4 L2138.7,435.4 L2138.8,438.4 L2139.0,441.4 L2139.1,444.4 L2139.2,447.4 L2139.3,450.4 L2139.4,453.4 L2139.5,456.4 L2139.6,459.4 L2139.7,462.4 L2139.8,465.4 L2139.9,468.4 L2140.0,471.4 L2140.1,474.4 L2140.2,477.4 L2140.2,480.4 L2140.3,483.4 L2140.4,486.4 L2140.5,489.4 L2140.6,492.4 L2140.6,495.4 L2140.7,498.4 L2140.8,501.4 L2140.9,504.4 L2140.9,507.4 L2141.0,510.4 L2141.1,513.4 L2141.1,516.4 L2141.2,519.4 L2141.3,522.4 L2141.3,525.4 L2141.4,528.4 L2141.5,531.4 L2141.5,534.4 L2141.6,537.4 L2141.6,540.4 L2141.7,543.4 L2141.7,546.4 L2141.8,549.4 L2141.8,552.4 L2141.9,555.4 L2141.9,558.4 L2142.0,561.4 L2142.0,564.4 L2142.1,567.4 L2142.1,570.4 L2142.2,573.4 L2142.2,576.4 L2142.3,579.4 L2142.3,582.4 L2142.4,585.4 L2142.4,588.4 L2142.5,591.4 L2142.5,594.4 L2142.6,597.4 L2142.7,600.4 L2142.7,603.4 L2142.8,606.4 L2142.8,609.4 L2142.9,612.4 L2143.0,615.4 L2143.0,618.4 L2143.1,621.4 L2143.2,624.4 L2143.3,627.4 L2143.3,630.4 L2143.4,633.4 L2143.5,636.4 L2143.5,639.4 L2143.6,642.4 L2143.7,645.4 L2143.8,648.4 L2143.9,651.4 L2143.9,654.4 L2144.0,657.4 L2144.1,660.4 L2144.2,663.4 L2144.3,666.4 L2144.4,669.4 L2144.5,672.4 L2144.6,675.4 L2144.7,678.4 L2144.8,681.4 L2144.9,684.4 L2145.0,687.4 L2145.1,690.4 L2145.2,693.4 L2145.3,696.4 L2145.5,699.4 L2145.6,702.4 L2145.7,705.4 L2145.8,708.4 L2146.0,711.4 L2146.1,714.4 L2146.3,717.4 L2146.4,720.4 L2146.6,723.4 L2146.7,726.4 L2146.9,729.4 L2147.1,732.4 L2147.2,735.4 L2147.4,738.4 L2147.6,741.4 L2147.8,744.4 L2148.0,747.4 L2148.3,750.4 L2148.5,753.4 L2148.7,756.4 L2148.9,759.4 L2149.2,762.4 L2149.5,765.4 L2149.7,768.4 L2150.0,771.4 L2150.3,774.4 L2150.6,777.3 L2150.9,780.3 L2151.2,783.3 L2151.6,786.3 L2151.9,789.2 L2152.3,792.4 L2152.8,796.1 L2153.4,800.0 L2154.0,803.8 L2154.7,807.1 L2155.4,809.7 L2156.0,811.3 L2156.5,811.4 L2157.1,810.0 L2157.7,807.5 L2158.3,804.2 L2158.8,800.4 L2159.3,796.5 L2159.7,792.7 L2160.0,789.5 L2160.3,786.5 L2160.5,783.5 L2160.8,780.6 L2161.0,777.6 L2161.2,774.6 L2161.4,771.6 L2161.6,768.6 L2161.7,765.6 L2161.9,762.6 L2162.1,759.6 L2162.2,756.6 L2162.4,753.6 L2162.5,750.6 L2162.6,747.6 L2162.8,744.6 L2162.9,741.6 L2163.0,738.6 L2163.1,735.6 L2163.2,732.6 L2163.3,729.6 L2163.5,726.6 L2163.6,723.6 L2163.7,720.6 L2163.8,717.6 L2163.9,714.6 L2164.0,711.6 L2164.1,708.6 L2164.2,705.6 L2164.3,702.6 L2164.4,699.6 L2164.5,696.6 L2164.6,693.6 L2164.7,690.6 L2164.8,687.6 L2164.9,684.6 L2165.0,681.6 L2165.0,678.6 L2165.1,675.6 L2165.2,672.6 L2165.3,669.6 L2165.4,666.6 L2165.5,663.6 L2165.5,660.6 L2165.6,657.6 L2165.7,654.6 L2165.8,651.6 L2165.8,648.6 L2165.9,645.6 L2166.0,642.6 L2166.1,639.6 L2166.1,636.6 L2166.2,633.6 L2166.3,630.6 L2166.4,627.6 L2166.4,624.6 L2166.5,621.6 L2166.6,618.5 L2166.7,615.5 L2166.7,612.5 L2166.8,609.5 L2166.9,606.5 L2167.0,603.5 L2167.1,600.5 L2167.1,597.5 L2167.2,594.5 L2167.3,591.5 L2167.4,588.5 L2167.5,585.5 L2167.5,582.5 L2167.6,579.5 L2167.7,576.5 L2167.8,573.5 L2167.9,570.5 L2167.9,567.5 L2168.0,564.5 L2168.1,561.5 L2168.2,558.5 L2168.3,555.5 L2168.3,552.5 L2168.4,549.5 L2168.5,546.5 L2168.6,543.5 L2168.7,540.5 L2168.7,537.5 L2168.8,534.5 L2168.9,531.5 L2169.0,528.5 L2169.1,525.5 L2169.1,522.5 L2169.2,519.5 L2169.3,516.5 L2169.4,513.5 L2169.5,510.5 L2169.5,507.5 L2169.6,504.5 L2169.7,501.5 L2169.7,498.5 L2169.8,495.5 L2169.9,492.5 L2170.0,489.5 L2170.1,486.5 L2170.1,483.5 L2170.2,480.5 L2170.3,477.5 L2170.4,474.5 L2170.5,471.5 L2170.6,468.5 L2170.7,465.5 L2170.9,462.5 L2171.0,459.5 L2171.1,456.5 L2171.3,453.5 L2171.4,450.5 L2171.6,447.5 L2171.8,444.5 L2172.0,441.6 L2172.2,438.6 L2172.4,435.6 L2172.6,432.6 L2172.9,429.6 L2173.1,426.6 L2173.3,423.6 L2173.6,420.6 L2173.9,417.6 L2174.1,414.6 L2174.4,411.6 L2174.7,408.6 L2175.0,405.6 L2175.3,402.7 L2175.5,399.7 L2175.8,396.7 L2176.1,393.7 L2176.4,390.7 L2176.7,387.7 L2177.0,384.7 L2177.4,381.8 L2177.7,378.8 L2178.0,375.8 L2178.4,372.8 L2178.7,369.8 L2179.1,366.8 L2179.5,363.9 L2179.9,360.9 L2180.3,357.9 L2180.7,354.9 L2181.1,352.0 L2181.6,349.0 L2182.0,346.0 L2182.5,343.1 L2182.9,340.1 L2183.4,337.1 L2183.9,334.0 L2184.4,331.0 L2184.9,327.9 L2185.5,324.9 L2186.1,322.0 L2186.8,319.1 L2187.6,316.3 L2188.5,313.6 L2189.6,310.9 L2191.2,308.2 L2193.1,305.6 L2195.3,303.5 L2197.5,302.0 L2199.9,300.7 L2202.5,299.6 L2205.3,298.5 L2208.4,297.7 L2211.6,297.2 L2215.0,297.0" fill="none" stroke="#000" stroke-width="19.5" stroke-linecap="round" stroke-linejoin="round" />
<path d="M1032,1079.5 H1062 M1047,1064.5 V1094.5" stroke="#f00" stroke-width="2.6" fill="none"/>
<path d="M1173.5,1227 H1203.5 M1188.5,1212 V1242" stroke="#f00" stroke-width="2.6" fill="none"/>
<path d="M1489.4,1033.3 H1519.4 M1504.4,1018.3 V1048.3" stroke="#f00" stroke-width="2.6" fill="none"/>
<path d="M1604,705 H1634 M1619,690 V720" stroke="#f00" stroke-width="2.6" fill="none"/>
<path d="M1708,591.5 H1738 M1723,576.5 V606.5" stroke="#f00" stroke-width="2.6" fill="none"/>
<path d="M2141.3,811.5 H2171.3 M2156.3,796.5 V826.5" stroke="#f00" stroke-width="2.6" fill="none"/>
<path d="M960.0,373.7 L964.7,381.3 L970.4,385.0 L973.3,390.9 L979.0,394.7 L983.8,408.0 L987.6,419.4 L992.3,432.7 L998.0,455.0 L1003.0,480.0" fill="none" stroke="#000" stroke-width="8.5" stroke-linecap="round" stroke-linejoin="round" />
<path d="M1251.1,607.8 L1254.9,575.5 L1260.7,537.4 L1268.3,499.4 L1272.3,476.5 L1278.0,461.3 L1285.6,451.8 L1293.2,450.6 L1297.0,442.3 L1298.0,423.2 L1300.8,408.0 L1308.4,399.4 L1318.0,398.3 L1324.6,392.8 L1325.6,379.5 L1331.3,375.6 L1342.7,371.8 L1350.3,370.0 L1357.9,376.6 L1363.6,379.3 L1369.3,375.6 L1371.2,362.3 L1375.0,358.9 L1393.0,358.5" fill="none" stroke="#000" stroke-width="19.5" stroke-linecap="butt" stroke-linejoin="round" />
<path d="M1272.0,452.0 L1272.9,449.0 L1273.9,446.0 L1274.9,443.0 L1276.0,440.1 L1277.1,437.1 L1278.3,434.2 L1279.5,431.3 L1280.8,428.5 L1282.1,425.6 L1283.5,422.8 L1284.9,420.0 L1286.4,417.2 L1288.0,414.5 L1289.6,411.8 L1291.3,409.1 L1293.0,406.4 L1294.8,403.9 L1296.7,401.4 L1298.7,399.0 L1300.8,396.6 L1303.0,394.4 L1305.3,392.1 L1307.6,390.0 L1310.0,388.0 L1312.4,386.1 L1315.0,384.3 L1317.6,382.5 L1320.3,380.8 L1323.0,379.2 L1325.7,377.6 L1328.4,376.1 L1331.2,374.6 L1334.0,373.2 L1336.8,371.8 L1339.7,370.4 L1342.5,369.1 L1345.4,367.8 L1348.3,366.6 L1351.2,365.4 L1354.1,364.2 L1357.0,363.1 L1360.0,362.0" fill="none" stroke="#000" stroke-width="14" stroke-linecap="round" stroke-linejoin="round" />
<path d="M1174.0,1195.0 L1174.4,1198.1 L1174.8,1201.2 L1175.4,1204.3 L1176.1,1207.3 L1176.8,1210.4 L1177.6,1213.4 L1178.4,1216.4 L1179.3,1219.4 L1180.3,1222.5 L1181.5,1225.4 L1183.0,1227.9 L1185.0,1230.6 L1187.6,1232.7 L1190.1,1232.6 L1192.6,1230.4 L1194.6,1227.8 L1196.2,1225.2 L1197.5,1222.4 L1198.6,1219.4 L1199.6,1216.3 L1200.5,1213.4 L1201.2,1210.4 L1202.0,1207.4 L1202.6,1204.3 L1203.2,1201.3 L1203.7,1198.1 L1204.0,1195.0" fill="none" stroke="#000" stroke-width="9" stroke-linecap="round" stroke-linejoin="round" />
<path d="M959.0,312.8 L1004.0,312.8 L1008.0,320.8 L1148.5,320.8 L1153.3,329.6 L1300.8,329.6 L1304.0,333.5 L1307.0,334.0" fill="none" stroke="#f00" stroke-width="7.5" stroke-linecap="round" stroke-linejoin="round" />
<path d="M962.0,340.0 L963.4,342.7 L964.9,345.3 L966.5,347.9 L968.1,350.4 L969.9,352.8 L971.7,355.2 L973.5,357.6 L975.5,359.9 L977.7,362.0 L980.0,363.8 L982.6,365.4 L985.3,366.9 L987.8,368.6 L990.0,370.5 L991.8,372.8 L993.5,375.3 L995.1,377.9 L996.6,380.6 L998.1,383.2 L999.5,385.8 L1001.0,388.5 L1002.3,391.2 L1003.6,393.9 L1004.7,396.7 L1005.8,399.5 L1006.8,402.3 L1007.8,405.2 L1008.7,408.0 L1009.6,410.9 L1010.4,413.8 L1011.3,416.7 L1012.1,419.6 L1012.9,422.5 L1013.6,425.4 L1014.3,428.3 L1014.9,431.3 L1015.5,434.2 L1016.0,437.2 L1016.4,440.2 L1016.9,443.1 L1017.3,446.1 L1017.7,449.1 L1018.0,452.1 L1018.4,455.1 L1018.7,458.1 L1019.1,461.1 L1019.4,464.0 L1019.7,467.0 L1020.0,470.0 L1020.3,473.0 L1020.5,476.0 L1020.8,479.0 L1021.0,482.0 L1021.3,485.0 L1021.5,488.0 L1021.7,491.0 L1021.9,494.0 L1022.1,497.0 L1022.2,500.0 L1022.4,503.0 L1022.6,506.0 L1022.8,509.0 L1023.0,512.0 L1023.2,515.0 L1023.4,518.0 L1023.6,521.0 L1023.8,524.0 L1024.0,527.0 L1024.2,530.0 L1024.4,533.0 L1024.6,536.0 L1024.8,539.0 L1025.0,542.0 L1025.1,545.0 L1025.3,548.0 L1025.4,551.0 L1025.6,554.0 L1025.7,557.0 L1025.9,560.0 L1026.0,563.0 L1026.2,566.0 L1026.3,569.0 L1026.4,572.0 L1026.6,575.0 L1026.7,578.1 L1026.9,581.1 L1027.0,584.1 L1027.1,587.1 L1027.2,590.1 L1027.4,593.1 L1027.5,596.1 L1027.6,599.1 L1027.8,602.1 L1027.9,605.1 L1028.0,608.1 L1028.1,611.1 L1028.3,614.1 L1028.4,617.1 L1028.5,620.1 L1028.7,623.1 L1028.8,626.1 L1028.9,629.1 L1029.1,632.1 L1029.2,635.1 L1029.4,638.1 L1029.5,641.1 L1029.6,644.1 L1029.8,647.1 L1029.9,650.1 L1030.0,653.1 L1030.2,656.1 L1030.3,659.1 L1030.4,662.2 L1030.6,665.2 L1030.7,668.2 L1030.9,671.2 L1031.0,674.2 L1031.1,677.2 L1031.3,680.2 L1031.4,683.2 L1031.6,686.2 L1031.7,689.2 L1031.8,692.2 L1032.0,695.2 L1032.1,698.2 L1032.2,701.2 L1032.4,704.2 L1032.5,707.2 L1032.6,710.2 L1032.8,713.2 L1032.9,716.2 L1033.0,719.2 L1033.2,722.2 L1033.3,725.2 L1033.4,728.2 L1033.6,731.2 L1033.7,734.2 L1033.8,737.2 L1034.0,740.2 L1034.1,743.2 L1034.2,746.3 L1034.4,749.3 L1034.5,752.3 L1034.6,755.3 L1034.7,758.3 L1034.9,761.3 L1035.0,764.3 L1035.1,767.3 L1035.2,770.3 L1035.3,773.3 L1035.5,776.3 L1035.6,779.3 L1035.7,782.3 L1035.8,785.3 L1035.9,788.3 L1036.0,791.3 L1036.2,794.3 L1036.3,797.3 L1036.4,800.3 L1036.5,803.3 L1036.6,806.3 L1036.7,809.3 L1036.8,812.4 L1036.9,815.4 L1037.0,818.4 L1037.1,821.4 L1037.3,824.4 L1037.4,827.4 L1037.5,830.4 L1037.6,833.4 L1037.7,836.4 L1037.8,839.4 L1037.9,842.4 L1038.0,845.4 L1038.1,848.4 L1038.2,851.4 L1038.3,854.4 L1038.4,857.4 L1038.6,860.4 L1038.7,863.4 L1038.8,866.4 L1038.9,869.4 L1039.0,872.4 L1039.1,875.5 L1039.2,878.5 L1039.3,881.5 L1039.5,884.5 L1039.6,887.5 L1039.7,890.5 L1039.8,893.5 L1039.9,896.5 L1040.1,899.5 L1040.2,902.5 L1040.3,905.5 L1040.4,908.5 L1040.5,911.5 L1040.7,914.5 L1040.8,917.5 L1040.9,920.5 L1041.1,923.5 L1041.2,926.5 L1041.3,929.5 L1041.5,932.5 L1041.6,935.5 L1041.7,938.5 L1041.9,941.5 L1042.0,944.5 L1042.2,947.5 L1042.3,950.5 L1042.5,953.5 L1042.6,956.5 L1042.8,959.5 L1043.0,962.6 L1043.1,965.6 L1043.3,968.6 L1043.5,971.6 L1043.6,974.6 L1043.8,977.6 L1044.0,980.6 L1044.2,983.6 L1044.4,986.6 L1044.6,989.6 L1044.7,992.6 L1044.9,995.6 L1045.1,998.6 L1045.3,1001.6 L1045.5,1004.6 L1045.7,1007.6 L1045.9,1010.6 L1046.1,1013.6 L1046.3,1016.6 L1046.5,1019.6 L1046.7,1022.6 L1046.9,1025.6 L1047.1,1028.6 L1047.3,1031.6 L1047.5,1034.6 L1047.7,1037.6 L1047.9,1040.6 L1048.1,1043.6 L1048.3,1046.6 L1048.5,1049.6 L1048.7,1052.6 L1048.9,1055.6 L1049.1,1058.6 L1049.3,1061.6 L1049.4,1064.6 L1049.6,1067.6 L1049.8,1070.6 L1050.0,1073.6 L1050.1,1076.6 L1050.3,1079.6 L1050.5,1082.6 L1050.7,1085.6 L1050.9,1088.6 L1051.1,1091.6 L1051.3,1094.6 L1051.5,1097.6 L1051.7,1100.6 L1051.9,1103.6 L1052.2,1106.6 L1052.5,1109.6 L1052.8,1112.8 L1053.1,1116.5 L1053.5,1120.5 L1053.9,1124.4 L1054.3,1128.0 L1054.7,1130.9 L1055.1,1133.0 L1055.5,1134.0 L1055.9,1133.5 L1056.4,1131.9 L1056.8,1129.2 L1057.3,1125.8 L1057.7,1122.0 L1058.1,1118.1 L1058.5,1114.2 L1058.9,1110.8 L1059.2,1107.8 L1059.6,1104.8 L1059.9,1101.8 L1060.2,1098.8 L1060.5,1095.8 L1060.8,1092.8 L1061.1,1089.8 L1061.4,1086.8 L1061.7,1083.8 L1062.0,1080.8 L1062.2,1077.8 L1062.5,1074.8 L1062.7,1071.9 L1063.0,1068.9 L1063.2,1065.9 L1063.4,1062.9 L1063.6,1059.9 L1063.8,1056.9 L1063.9,1053.9 L1064.1,1050.9 L1064.2,1047.9 L1064.4,1044.9 L1064.5,1041.8 L1064.6,1038.8 L1064.8,1035.8 L1064.9,1032.8 L1065.0,1029.8 L1065.1,1026.8 L1065.2,1023.8 L1065.3,1020.8 L1065.4,1017.8 L1065.5,1014.8 L1065.6,1011.8 L1065.7,1008.8 L1065.8,1005.8 L1065.9,1002.8 L1066.0,999.8 L1066.0,996.8 L1066.1,993.8 L1066.2,990.8 L1066.3,987.8 L1066.4,984.7 L1066.6,981.7 L1066.7,978.7 L1066.8,975.7 L1066.9,972.7 L1067.0,969.7 L1067.1,966.7 L1067.3,963.7 L1067.4,960.7 L1067.5,957.7 L1067.6,954.7 L1067.7,951.7 L1067.9,948.7 L1068.0,945.7 L1068.1,942.7 L1068.2,939.7 L1068.4,936.7 L1068.5,933.7 L1068.6,930.7 L1068.7,927.7 L1068.9,924.7 L1069.0,921.7 L1069.1,918.7 L1069.2,915.7 L1069.4,912.6 L1069.5,909.6 L1069.6,906.6 L1069.7,903.6 L1069.9,900.6 L1070.0,897.6 L1070.1,894.6 L1070.3,891.6 L1070.4,888.6 L1070.5,885.6 L1070.7,882.6 L1070.8,879.6 L1070.9,876.6 L1071.1,873.6 L1071.2,870.6 L1071.3,867.6 L1071.5,864.6 L1071.6,861.6 L1071.8,858.6 L1071.9,855.6 L1072.0,852.6 L1072.2,849.6 L1072.3,846.6 L1072.5,843.6 L1072.6,840.6 L1072.8,837.6 L1072.9,834.6 L1073.1,831.6 L1073.3,828.6 L1073.4,825.5 L1073.6,822.5 L1073.7,819.5 L1073.9,816.5 L1074.1,813.5 L1074.2,810.5 L1074.4,807.5 L1074.5,804.5 L1074.7,801.5 L1074.9,798.5 L1075.0,795.5 L1075.2,792.5 L1075.3,789.5 L1075.5,786.5 L1075.6,783.5 L1075.8,780.5 L1076.0,777.5 L1076.1,774.5 L1076.2,771.5 L1076.4,768.5 L1076.5,765.5 L1076.7,762.5 L1076.8,759.5 L1076.9,756.5 L1077.1,753.5 L1077.2,750.5 L1077.3,747.5 L1077.4,744.5 L1077.5,741.5 L1077.7,738.5 L1077.8,735.5 L1077.9,732.5 L1078.0,729.4 L1078.1,726.4 L1078.2,723.4 L1078.3,720.4 L1078.4,717.4 L1078.5,714.4 L1078.6,711.4 L1078.7,708.4 L1078.8,705.4 L1078.9,702.4 L1079.0,699.4 L1079.1,696.4 L1079.2,693.4 L1079.3,690.4 L1079.4,687.4 L1079.5,684.4 L1079.6,681.4 L1079.7,678.4 L1079.8,675.4 L1079.9,672.4 L1080.1,669.3 L1080.2,666.3 L1080.3,663.3 L1080.4,660.3 L1080.6,657.3 L1080.7,654.3 L1080.9,651.3 L1081.0,648.3 L1081.2,645.3 L1081.4,642.3 L1081.6,639.3 L1081.8,636.3 L1082.0,633.3 L1082.2,630.3 L1082.4,627.3 L1082.6,624.3 L1082.8,621.3 L1083.0,618.3 L1083.2,615.3 L1083.4,612.3 L1083.6,609.3 L1083.8,606.3 L1084.0,603.3 L1084.2,600.3 L1084.3,597.3 L1084.5,594.3 L1084.7,591.3 L1084.9,588.3 L1085.0,585.3 L1085.2,582.3 L1085.4,579.3 L1085.6,576.3 L1085.7,573.3 L1085.9,570.3 L1086.0,567.3 L1086.2,564.3 L1086.3,561.3 L1086.5,558.3 L1086.6,555.3 L1086.8,552.3 L1086.9,549.3 L1087.1,546.3 L1087.2,543.3 L1087.4,540.3 L1087.5,537.3 L1087.7,534.3 L1087.8,531.3 L1087.9,528.3 L1088.1,525.3 L1088.2,522.3 L1088.3,519.2 L1088.5,516.2 L1088.6,513.2 L1088.8,510.2 L1088.9,507.2 L1089.1,504.2 L1089.3,501.2 L1089.5,498.2 L1089.7,495.2 L1090.0,492.2 L1090.2,489.3 L1090.5,486.3 L1090.8,483.3 L1091.2,480.3 L1091.5,477.3 L1091.8,474.3 L1092.1,471.3 L1092.5,468.3 L1092.8,465.3 L1093.1,462.3 L1093.5,459.4 L1093.8,456.4 L1094.2,453.4 L1094.6,450.4 L1095.1,447.4 L1095.6,444.5 L1096.2,441.5 L1096.8,438.6 L1097.4,435.6 L1098.0,432.7 L1098.6,429.7 L1099.1,426.8 L1099.7,423.8 L1100.2,420.8 L1100.8,417.9 L1101.5,415.0 L1102.2,412.1 L1103.0,409.2 L1103.9,406.3 L1104.9,403.5 L1105.9,400.6 L1107.0,397.8 L1108.1,395.0 L1109.3,392.3 L1110.6,389.5 L1111.9,386.8 L1113.3,384.1 L1114.8,381.6 L1116.6,379.1 L1118.6,376.9 L1120.6,374.6 L1122.4,372.2 L1123.9,369.6 L1125.2,366.8 L1126.9,364.5 L1129.0,362.3 L1131.4,360.4 L1139.0,355.7 L1146.6,352.8 L1148.5,347.0 L1167.6,347.0 L1175.0,343.3 L1179.0,339.1 L1389.7,339.1" fill="none" stroke="#ff8000" stroke-width="12" stroke-linecap="round" stroke-linejoin="round" />
<path d="M960.0,339.5 L961.3,342.8 L962.9,345.6 L964.8,347.0 L967.2,347.6 L970.1,347.9 L973.3,348.1 L976.7,348.3 L979.9,348.6 L982.8,349.2 L985.5,350.2 L988.1,351.7 L990.7,353.4 L993.3,355.2 L995.7,357.0 L998.1,358.8 L1000.4,360.8 L1002.7,362.8 L1005.0,364.7 L1007.3,366.5 L1009.9,368.2 L1012.5,369.8 L1015.0,371.4 L1017.4,373.2 L1019.6,375.2 L1021.6,377.4 L1023.6,379.7 L1025.4,382.1 L1027.2,384.6 L1028.9,387.0 L1030.6,389.5 L1032.2,392.1 L1033.7,394.7 L1035.2,397.3 L1036.7,400.0 L1038.1,402.6 L1039.6,405.2 L1041.0,407.9 L1042.4,410.6 L1043.8,413.2 L1045.1,415.9 L1046.4,418.7 L1047.7,421.4 L1048.9,424.1 L1050.1,426.9 L1051.2,429.7 L1052.3,432.5 L1053.4,435.3 L1054.5,438.1 L1055.5,440.9 L1056.6,443.8 L1057.6,446.6 L1058.6,449.4 L1059.6,452.3 L1060.6,455.1 L1061.6,458.0 L1062.5,460.8 L1063.3,463.7 L1064.1,466.6 L1064.9,469.5 L1065.6,472.4 L1066.3,475.4 L1066.9,478.3 L1067.6,481.3 L1068.2,484.2 L1068.8,487.2 L1069.5,490.1 L1070.1,493.1 L1070.7,496.0 L1071.3,499.0 L1071.8,501.9 L1072.4,504.9 L1073.0,507.8 L1073.5,510.8 L1074.1,513.7 L1074.7,516.7 L1075.3,519.6 L1075.9,522.6 L1076.5,525.5 L1077.1,528.5 L1077.7,531.4 L1078.3,534.4 L1078.9,537.3 L1079.5,540.3 L1080.1,543.2 L1080.7,546.2 L1081.2,549.2 L1081.7,552.1 L1082.3,555.1 L1082.8,558.0 L1083.3,561.0 L1083.8,564.0 L1084.3,567.0 L1084.8,569.9 L1085.2,572.9 L1085.7,575.9 L1086.1,578.9 L1086.5,581.8 L1086.8,584.8 L1087.2,587.8 L1087.5,590.8 L1087.9,593.8 L1088.2,596.8 L1088.5,599.8 L1088.9,602.8 L1089.2,605.8 L1089.5,608.8 L1089.8,611.8 L1090.1,614.8 L1090.4,617.7 L1090.7,620.7 L1091.0,623.7 L1091.2,626.7 L1091.5,629.7 L1091.8,632.7 L1092.0,635.7 L1092.3,638.7 L1092.6,641.7 L1092.9,644.7 L1093.1,647.7 L1093.4,650.7 L1093.7,653.7 L1094.0,656.7 L1094.3,659.7 L1094.6,662.7 L1094.9,665.7 L1095.2,668.7 L1095.5,671.7 L1095.8,674.7 L1096.2,677.7 L1096.5,680.7 L1096.8,683.7 L1097.1,686.7 L1097.4,689.7 L1097.8,692.6 L1098.1,695.6 L1098.4,698.6 L1098.7,701.6 L1099.1,704.6 L1099.4,707.6 L1099.7,710.6 L1100.0,713.6 L1100.3,716.6 L1100.6,719.6 L1100.9,722.6 L1101.2,725.6 L1101.5,728.6 L1101.8,731.6 L1102.1,734.6 L1102.3,737.6 L1102.6,740.6 L1102.9,743.6 L1103.1,746.6 L1103.4,749.6 L1103.6,752.6 L1103.8,755.6 L1104.1,758.6 L1104.3,761.6 L1104.5,764.6 L1104.7,767.6 L1104.9,770.6 L1105.1,773.6 L1105.3,776.6 L1105.5,779.6 L1105.7,782.6 L1105.9,785.6 L1106.1,788.6 L1106.2,791.6 L1106.4,794.6 L1106.6,797.6 L1106.8,800.6 L1106.9,803.6 L1107.1,806.6 L1107.3,809.6 L1107.5,812.6 L1107.6,815.6 L1107.8,818.6 L1108.0,821.7 L1108.1,824.7 L1108.3,827.7 L1108.5,830.7 L1108.6,833.7 L1108.8,836.7 L1109.0,839.7 L1109.1,842.7 L1109.3,845.7 L1109.5,848.7 L1109.6,851.7 L1109.8,854.7 L1110.0,857.7 L1110.2,860.7 L1110.4,863.7 L1110.5,866.7 L1110.7,869.7 L1110.9,872.7 L1111.0,875.8 L1111.2,878.8 L1111.4,881.8 L1111.6,884.8 L1111.7,887.8 L1111.9,890.8 L1112.1,893.8 L1112.2,896.8 L1112.4,899.8 L1112.6,902.8 L1112.7,905.8 L1112.9,908.8 L1113.1,911.8 L1113.3,914.8 L1113.4,917.8 L1113.6,920.8 L1113.8,923.8 L1114.0,926.8 L1114.1,929.8 L1114.3,932.9 L1114.5,935.9 L1114.7,938.9 L1114.9,941.9 L1115.1,944.9 L1115.3,947.9 L1115.5,950.9 L1115.7,953.9 L1115.9,956.9 L1116.0,959.9 L1116.2,962.9 L1116.4,965.9 L1116.6,968.9 L1116.8,971.9 L1117.1,974.9 L1117.3,977.9 L1117.5,980.9 L1117.7,983.9 L1117.9,986.9 L1118.1,989.9 L1118.3,992.9 L1118.5,995.9 L1118.7,998.9 L1118.9,1001.9 L1119.2,1004.9 L1119.4,1007.9 L1119.6,1010.9 L1119.8,1013.9 L1120.1,1016.9 L1120.3,1019.9 L1120.5,1022.9 L1120.8,1026.0 L1121.0,1029.0 L1121.2,1032.0 L1121.5,1035.0 L1121.7,1038.0 L1122.0,1040.9 L1122.2,1043.9 L1122.5,1046.9 L1122.8,1049.9 L1123.0,1052.9 L1123.3,1055.9 L1123.6,1058.9 L1123.8,1061.9 L1124.1,1064.9 L1124.4,1067.9 L1124.7,1070.9 L1125.0,1073.9 L1125.3,1076.9 L1125.6,1079.9 L1125.9,1082.9 L1126.2,1085.9 L1126.6,1088.9 L1126.9,1091.9 L1127.3,1094.9 L1127.7,1097.9 L1128.1,1100.9 L1128.6,1104.3 L1129.1,1108.2 L1129.7,1112.1 L1130.3,1115.7 L1130.9,1118.7 L1131.4,1120.8 L1132.0,1121.5 L1132.6,1120.7 L1133.2,1118.7 L1133.8,1115.6 L1134.4,1112.0 L1135.0,1108.1 L1135.5,1104.2 L1135.9,1100.8 L1136.3,1097.8 L1136.6,1094.8 L1136.9,1091.8 L1137.1,1088.8 L1137.4,1085.8 L1137.6,1082.8 L1137.8,1079.8 L1138.0,1076.8 L1138.3,1073.8 L1138.5,1070.8 L1138.6,1067.8 L1138.8,1064.8 L1139.0,1061.7 L1139.3,1058.7 L1139.5,1055.7 L1139.7,1052.7 L1139.9,1049.7 L1140.1,1046.7 L1140.4,1043.7 L1140.6,1040.7 L1140.8,1037.7 L1141.0,1034.7 L1141.3,1031.7 L1141.5,1028.7 L1141.7,1025.7 L1141.9,1022.7 L1142.1,1019.7 L1142.3,1016.7 L1142.6,1013.7 L1142.8,1010.7 L1143.0,1007.7 L1143.2,1004.7 L1143.4,1001.7 L1143.6,998.7 L1143.8,995.7 L1144.1,992.7 L1144.3,989.7 L1144.5,986.7 L1144.7,983.7 L1145.0,980.7 L1145.2,977.7 L1145.4,974.7 L1145.6,971.7 L1145.9,968.7 L1146.1,965.7 L1146.4,962.7 L1146.6,959.7 L1146.8,956.7 L1147.1,953.7 L1147.3,950.7 L1147.6,947.7 L1147.9,944.7 L1148.1,941.7 L1148.4,938.7 L1148.7,935.7 L1149.0,932.7 L1149.3,929.7 L1149.6,926.7 L1149.9,923.7 L1150.2,920.7 L1150.5,917.7 L1150.8,914.7 L1151.2,911.7 L1151.5,908.7 L1151.8,905.7 L1152.1,902.7 L1152.4,899.8 L1152.7,896.8 L1153.1,893.8 L1153.4,890.8 L1153.7,887.8 L1154.0,884.8 L1154.3,881.8 L1154.6,878.8 L1154.8,875.8 L1155.1,872.8 L1155.4,869.8 L1155.7,866.8 L1155.9,863.8 L1156.2,860.8 L1156.4,857.8 L1156.6,854.8 L1156.8,851.8 L1157.1,848.8 L1157.3,845.8 L1157.5,842.8 L1157.7,839.8 L1157.9,836.8 L1158.1,833.8 L1158.3,830.8 L1158.4,827.8 L1158.6,824.8 L1158.8,821.8 L1159.0,818.8 L1159.2,815.8 L1159.3,812.8 L1159.5,809.7 L1159.7,806.7 L1159.9,803.7 L1160.0,800.7 L1160.2,797.7 L1160.4,794.7 L1160.5,791.7 L1160.7,788.7 L1160.9,785.7 L1161.1,782.7 L1161.2,779.7 L1161.4,776.7 L1161.6,773.7 L1161.8,770.7 L1162.0,767.7 L1162.2,764.7 L1162.4,761.7 L1162.6,758.7 L1162.8,755.7 L1163.0,752.7 L1163.2,749.6 L1163.4,746.6 L1163.6,743.6 L1163.8,740.6 L1164.0,737.6 L1164.1,734.6 L1164.3,731.6 L1164.5,728.6 L1164.7,725.6 L1164.9,722.6 L1165.1,719.6 L1165.3,716.6 L1165.5,713.6 L1165.7,710.6 L1165.9,707.6 L1166.1,704.6 L1166.4,701.6 L1166.6,698.6 L1166.8,695.6 L1167.0,692.6 L1167.2,689.5 L1167.5,686.5 L1167.7,683.5 L1167.9,680.5 L1168.2,677.5 L1168.4,674.5 L1168.7,671.6 L1169.0,668.6 L1169.2,665.6 L1169.5,662.6 L1169.8,659.6 L1170.1,656.6 L1170.4,653.6 L1170.7,650.6 L1171.1,647.6 L1171.4,644.6 L1171.9,641.7 L1172.3,638.7 L1172.7,635.7 L1173.2,632.7 L1173.7,629.8 L1174.1,626.8 L1174.6,623.8 L1175.1,620.8 L1175.6,617.8 L1176.0,614.9 L1176.4,611.9 L1176.9,608.9 L1177.2,605.9 L1177.6,602.9 L1178.0,600.0 L1178.3,597.0 L1178.7,594.0 L1179.1,591.0 L1179.4,588.0 L1179.8,585.0 L1180.1,582.0 L1180.5,579.0 L1180.8,576.0 L1181.2,573.0 L1181.5,570.1 L1181.9,567.1 L1182.2,564.1 L1182.6,561.1 L1182.9,558.1 L1183.3,555.1 L1183.7,552.1 L1184.0,549.1 L1184.4,546.1 L1184.8,543.2 L1185.3,540.2 L1185.7,537.2 L1186.2,534.2 L1186.7,531.3 L1187.3,528.3 L1187.9,525.4 L1188.5,522.4 L1189.1,519.5 L1189.7,516.5 L1190.4,513.6 L1191.0,510.6 L1191.6,507.7 L1192.3,504.8 L1192.9,501.8 L1193.5,498.9 L1194.2,495.9 L1194.8,493.0 L1195.5,490.0 L1196.2,487.1 L1197.0,484.2 L1197.7,481.3 L1198.5,478.4 L1199.4,475.5 L1200.3,472.7 L1201.2,469.8 L1202.2,466.9 L1203.2,464.1 L1204.2,461.3 L1205.3,458.4 L1206.3,455.6 L1207.3,452.8 L1208.4,450.0 L1209.5,447.2 L1210.6,444.4 L1211.8,441.6 L1213.0,438.8 L1214.3,436.1 L1215.5,433.4 L1216.9,430.7 L1218.3,428.0 L1219.7,425.3 L1221.2,422.7 L1222.7,420.2 L1224.4,417.6 L1226.1,415.1 L1227.8,412.7 L1229.6,410.3 L1231.5,407.9 L1233.4,405.6 L1235.4,403.3 L1237.4,401.1 L1239.4,398.9 L1241.5,396.7 L1243.6,394.5 L1245.8,392.4 L1248.0,390.4 L1250.3,388.4 L1252.6,386.5 L1255.0,384.6 L1257.4,382.9 L1260.0,381.3 L1262.6,379.9 L1265.3,378.5 L1267.9,377.0 L1270.5,375.5 L1273.0,373.7 L1275.4,371.7 L1277.7,369.7 L1280.2,367.9 L1282.7,366.4 L1285.4,365.4 L1288.2,364.7 L1291.2,364.0 L1294.2,363.4 L1297.2,362.8 L1300.1,361.9 L1302.9,360.6 L1305.7,359.3 L1308.5,358.3 L1311.4,358.1 L1314.3,358.1 L1317.2,358.1 L1320.1,358.1 L1323.0,358.1 L1325.9,358.1 L1328.9,358.1 L1331.8,358.1 L1334.8,358.1 L1337.7,358.1 L1340.7,358.1 L1343.7,358.1 L1346.6,358.1 L1349.6,358.1 L1352.7,358.1 L1355.7,358.1 L1358.7,358.1 L1361.7,358.1 L1364.8,358.1 L1367.9,358.1 L1370.9,358.1 L1374.0,358.1 L1377.1,358.1 L1380.3,358.1 L1383.4,358.1 L1386.5,358.1 L1389.7,358.1" fill="none" stroke="#00f" stroke-width="12" stroke-linecap="round" stroke-linejoin="round" />
<path d="M959.3,320.4 L983.8,320.4 L989.5,330.0 L1031.3,330.0 L1037.0,339.5 L1058.0,340.4 L1063.7,347.0 L1080.8,348.0 L1080.8,348.0 L1082.4,350.6 L1084.1,353.1 L1085.9,355.5 L1087.8,357.8 L1089.8,360.0 L1092.1,362.1 L1094.3,364.1 L1096.3,366.3 L1098.0,368.8 L1099.5,371.4 L1101.0,374.0 L1102.4,376.7 L1103.7,379.4 L1104.9,382.2 L1106.1,385.0 L1107.1,387.8 L1108.0,390.6 L1108.8,393.5 L1109.5,396.4 L1110.2,399.4 L1110.9,402.3 L1111.5,405.3 L1112.1,408.2 L1112.7,411.2 L1113.3,414.1 L1113.8,417.1 L1114.4,420.0 L1115.0,423.0 L1115.6,425.9 L1116.2,428.9 L1116.9,431.8 L1117.5,434.7 L1118.2,437.7 L1118.7,440.6 L1119.2,443.6 L1119.7,446.6 L1120.1,449.5 L1120.5,452.5 L1120.8,455.5 L1121.2,458.5 L1121.6,461.5 L1121.9,464.5 L1122.3,467.5 L1122.7,470.5 L1123.1,473.4 L1123.5,476.4 L1123.9,479.4 L1124.3,482.4 L1124.7,485.4 L1125.1,488.3 L1125.5,491.3 L1125.9,494.3 L1126.3,497.3 L1126.6,500.3 L1126.9,503.3 L1127.3,506.3 L1127.6,509.2 L1127.9,512.2 L1128.2,515.2 L1128.5,518.2 L1128.8,521.2 L1129.1,524.2 L1129.4,527.2 L1129.7,530.2 L1129.9,533.2 L1130.2,536.2 L1130.4,539.2 L1130.7,542.2 L1130.9,545.2 L1131.1,548.2 L1131.4,551.2 L1131.6,554.2 L1131.8,557.2 L1132.0,560.2 L1132.2,563.2 L1132.4,566.2 L1132.6,569.2 L1132.8,572.2 L1133.0,575.2 L1133.2,578.2 L1133.4,581.2 L1133.6,584.2 L1133.8,587.2 L1133.9,590.2 L1134.1,593.2 L1134.3,596.2 L1134.5,599.2 L1134.7,602.2 L1134.8,605.2 L1135.0,608.2 L1135.2,611.2 L1135.4,614.2 L1135.5,617.2 L1135.7,620.2 L1135.9,623.2 L1136.0,626.2 L1136.2,629.2 L1136.4,632.2 L1136.5,635.3 L1136.7,638.3 L1136.9,641.3 L1137.0,644.3 L1137.2,647.3 L1137.4,650.3 L1137.5,653.3 L1137.7,656.3 L1137.9,659.3 L1138.1,662.3 L1138.2,665.3 L1138.4,668.3 L1138.6,671.3 L1138.8,674.3 L1139.0,677.3 L1139.1,680.3 L1139.3,683.3 L1139.5,686.3 L1139.7,689.3 L1139.9,692.3 L1140.1,695.3 L1140.3,698.3 L1140.4,701.3 L1140.6,704.3 L1140.8,707.3 L1141.0,710.3 L1141.2,713.3 L1141.4,716.3 L1141.5,719.3 L1141.7,722.3 L1141.9,725.3 L1142.1,728.3 L1142.3,731.3 L1142.4,734.3 L1142.6,737.3 L1142.8,740.3 L1143.0,743.3 L1143.1,746.4 L1143.3,749.4 L1143.5,752.4 L1143.6,755.4 L1143.8,758.4 L1143.9,761.4 L1144.1,764.4 L1144.2,767.4 L1144.4,770.4 L1144.5,773.4 L1144.7,776.4 L1144.8,779.4 L1145.0,782.4 L1145.1,785.4 L1145.3,788.4 L1145.4,791.4 L1145.6,794.4 L1145.7,797.4 L1145.8,800.4 L1146.0,803.4 L1146.1,806.4 L1146.2,809.4 L1146.4,812.4 L1146.5,815.5 L1146.7,818.5 L1146.8,821.5 L1147.0,824.5 L1147.1,827.5 L1147.3,830.5 L1147.4,833.5 L1147.6,836.5 L1147.7,839.5 L1147.9,842.5 L1148.0,845.5 L1148.2,848.5 L1148.3,851.5 L1148.5,854.5 L1148.7,857.5 L1148.9,860.5 L1149.0,863.5 L1149.2,866.5 L1149.4,869.5 L1149.6,872.5 L1149.8,875.5 L1149.9,878.5 L1150.1,881.5 L1150.3,884.5 L1150.5,887.5 L1150.7,890.5 L1150.9,893.5 L1151.1,896.5 L1151.3,899.5 L1151.5,902.5 L1151.7,905.5 L1151.9,908.5 L1152.1,911.5 L1152.3,914.5 L1152.5,917.5 L1152.7,920.5 L1153.0,923.5 L1153.2,926.5 L1153.4,929.5 L1153.6,932.5 L1153.9,935.5 L1154.1,938.5 L1154.3,941.5 L1154.6,944.5 L1154.8,947.5 L1155.0,950.5 L1155.3,953.5 L1155.5,956.5 L1155.8,959.5 L1156.1,962.5 L1156.3,965.5 L1156.6,968.5 L1156.9,971.5 L1157.2,974.5 L1157.5,977.5 L1157.8,980.5 L1158.0,983.5 L1158.3,986.5 L1158.6,989.5 L1159.0,992.5 L1159.3,995.5 L1159.6,998.4 L1159.9,1001.4 L1160.2,1004.4 L1160.5,1007.4 L1160.8,1010.4 L1161.2,1013.4 L1161.5,1016.4 L1161.8,1019.4 L1162.1,1022.4 L1162.5,1025.4 L1162.8,1028.4 L1163.1,1031.4 L1163.4,1034.3 L1163.8,1037.3 L1164.1,1040.3 L1164.4,1043.3 L1164.7,1046.3 L1165.0,1049.3 L1165.4,1052.3 L1165.7,1055.3 L1166.0,1058.3 L1166.3,1061.3 L1166.6,1064.3 L1166.9,1067.2 L1167.3,1070.2 L1167.6,1073.2 L1167.9,1076.2 L1168.2,1079.2 L1168.5,1082.2 L1168.8,1085.2 L1169.1,1088.2 L1169.4,1091.2 L1169.7,1094.2 L1170.0,1097.2 L1170.4,1100.2 L1170.7,1103.2 L1171.0,1106.2 L1171.3,1109.2 L1171.7,1112.1 L1172.0,1115.1 L1172.3,1118.1 L1172.7,1121.1 L1173.0,1124.1 L1173.4,1127.1 L1173.7,1130.1 L1174.1,1133.1 L1174.5,1136.0 L1174.8,1139.0 L1175.2,1142.0 L1175.6,1145.0 L1176.0,1148.0 L1176.4,1150.9 L1176.8,1153.9 L1177.3,1156.9 L1177.7,1159.9 L1178.1,1162.9 L1178.5,1165.8 L1179.0,1168.8 L1179.4,1171.8 L1179.9,1174.8 L1180.4,1177.8 L1180.9,1180.8 L1181.5,1183.7 L1182.1,1186.7 L1182.7,1189.6 L1183.4,1192.5 L1184.1,1195.4 L1185.0,1198.8 L1186.0,1202.5 L1187.1,1205.9 L1188.3,1208.0 L1189.4,1208.4 L1190.7,1206.8 L1192.0,1203.8 L1193.3,1200.3 L1194.4,1196.7 L1195.4,1193.8 L1196.3,1190.9 L1197.2,1188.1 L1198.1,1185.2 L1198.9,1182.3 L1199.7,1179.4 L1200.5,1176.4 L1201.2,1173.5 L1201.9,1170.6 L1202.6,1167.6 L1203.2,1164.7 L1203.8,1161.7 L1204.3,1158.7 L1204.9,1155.8 L1205.4,1152.8 L1205.8,1149.9 L1206.3,1146.9 L1206.7,1144.0 L1207.2,1141.0 L1207.6,1138.0 L1208.0,1135.1 L1208.4,1132.1 L1208.8,1129.1 L1209.2,1126.1 L1209.5,1123.2 L1209.9,1120.2 L1210.3,1117.2 L1210.6,1114.2 L1210.9,1111.2 L1211.3,1108.2 L1211.6,1105.2 L1211.9,1102.2 L1212.2,1099.2 L1212.5,1096.2 L1212.8,1093.2 L1213.1,1090.2 L1213.4,1087.2 L1213.7,1084.2 L1214.0,1081.2 L1214.3,1078.2 L1214.6,1075.2 L1214.8,1072.2 L1215.1,1069.2 L1215.4,1066.2 L1215.7,1063.2 L1216.0,1060.2 L1216.3,1057.2 L1216.5,1054.2 L1216.8,1051.2 L1217.1,1048.2 L1217.4,1045.2 L1217.7,1042.2 L1218.0,1039.2 L1218.2,1036.2 L1218.5,1033.2 L1218.8,1030.2 L1219.1,1027.3 L1219.3,1024.3 L1219.6,1021.3 L1219.9,1018.3 L1220.1,1015.3 L1220.4,1012.3 L1220.6,1009.3 L1220.9,1006.3 L1221.1,1003.3 L1221.4,1000.3 L1221.6,997.3 L1221.9,994.3 L1222.1,991.3 L1222.4,988.3 L1222.6,985.3 L1222.8,982.3 L1223.1,979.3 L1223.3,976.3 L1223.5,973.3 L1223.8,970.3 L1224.0,967.3 L1224.2,964.3 L1224.4,961.3 L1224.6,958.3 L1224.8,955.3 L1225.0,952.3 L1225.2,949.3 L1225.4,946.3 L1225.6,943.3 L1225.8,940.3 L1226.0,937.3 L1226.2,934.3 L1226.4,931.3 L1226.6,928.3 L1226.8,925.3 L1227.0,922.3 L1227.2,919.3 L1227.3,916.3 L1227.5,913.3 L1227.7,910.3 L1227.9,907.3 L1228.1,904.3 L1228.2,901.3 L1228.4,898.2 L1228.6,895.2 L1228.8,892.2 L1228.9,889.2 L1229.1,886.2 L1229.3,883.2 L1229.5,880.2 L1229.6,877.2 L1229.8,874.2 L1230.0,871.2 L1230.2,868.2 L1230.3,865.2 L1230.5,862.2 L1230.7,859.2 L1230.9,856.2 L1231.1,853.2 L1231.3,850.2 L1231.4,847.2 L1231.6,844.2 L1231.8,841.2 L1232.0,838.2 L1232.2,835.2 L1232.3,832.2 L1232.5,829.2 L1232.7,826.2 L1232.9,823.2 L1233.1,820.2 L1233.2,817.2 L1233.4,814.2 L1233.6,811.2 L1233.8,808.2 L1234.0,805.2 L1234.1,802.2 L1234.3,799.2 L1234.5,796.2 L1234.7,793.2 L1234.9,790.2 L1235.0,787.1 L1235.2,784.1 L1235.4,781.1 L1235.6,778.1 L1235.8,775.1 L1235.9,772.1 L1236.1,769.1 L1236.3,766.1 L1236.5,763.1 L1236.7,760.1 L1236.9,757.1 L1237.1,754.1 L1237.2,751.1 L1237.4,748.1 L1237.6,745.1 L1237.8,742.1 L1238.0,739.1 L1238.2,736.1 L1238.3,733.1 L1238.5,730.1 L1238.7,727.1 L1238.9,724.1 L1239.1,721.1 L1239.3,718.1 L1239.4,715.1 L1239.6,712.1 L1239.8,709.1 L1240.0,706.1 L1240.2,703.1 L1240.4,700.1 L1240.6,697.1 L1240.7,694.1 L1240.9,691.1 L1241.1,688.1 L1241.3,685.1 L1241.5,682.1 L1241.7,679.1 L1241.9,676.1 L1242.1,673.1 L1242.3,670.1 L1242.5,667.1 L1242.8,664.1 L1243.0,661.1 L1243.2,658.1 L1243.4,655.1 L1243.6,652.1 L1243.9,649.1 L1244.1,646.1 L1244.4,643.1 L1244.6,640.1 L1244.9,637.1 L1245.1,634.1 L1245.4,631.1 L1245.7,628.1 L1245.9,625.1 L1246.2,622.1 L1246.5,619.1 L1246.8,616.1 L1247.0,613.1 L1247.3,610.1 L1247.6,607.1 L1247.8,604.1 L1248.1,601.1 L1248.4,598.1 L1248.7,595.1 L1248.9,592.1 L1249.2,589.1 L1249.5,586.1 L1249.7,583.1 L1250.0,580.2 L1250.3,577.2 L1250.5,574.2 L1250.7,571.2 L1251.0,568.2 L1251.2,565.2 L1251.4,562.2 L1251.6,559.2 L1251.9,556.2 L1252.1,553.2 L1252.3,550.2 L1252.5,547.2 L1252.7,544.2 L1252.9,541.2 L1253.1,538.2 L1253.4,535.2 L1253.6,532.2 L1253.8,529.2 L1254.0,526.2 L1254.2,523.2 L1254.4,520.2 L1254.6,517.2 L1254.8,514.2 L1255.1,511.2 L1255.3,508.2 L1255.5,505.2 L1255.8,502.2 L1256.0,499.2 L1256.3,496.2 L1256.5,493.2 L1256.8,490.2 L1257.1,487.2 L1257.4,484.2 L1257.7,481.2 L1258.0,478.2 L1258.3,475.2 L1258.6,472.2 L1258.9,469.2 L1259.3,466.2 L1259.7,463.2 L1260.0,460.3 L1260.5,457.3 L1260.9,454.3 L1261.4,451.3 L1261.9,448.4 L1262.4,445.4 L1263.0,442.5 L1263.5,439.5 L1264.0,436.5 L1264.6,433.6 L1265.2,430.6 L1265.8,427.7 L1266.4,424.7 L1267.0,421.8 L1267.7,418.8 L1268.3,415.9 L1269.0,413.0 L1269.7,410.0 L1270.4,407.1 L1271.2,404.2 L1272.0,401.3 L1272.9,398.4 L1273.8,395.6 L1274.8,392.8 L1276.0,390.0 L1277.3,387.3 L1278.7,384.6 L1280.2,381.9 L1281.8,379.4 L1283.5,376.9 L1285.3,374.4 L1287.2,372.1 L1289.3,369.9 L1291.4,367.9 L1293.9,366.2 L1296.5,364.7 L1299.2,363.3 L1301.7,361.7 L1304.2,359.9 L1306.6,358.2 L1309.0,356.3 L1351.0,356.0 L1358.5,347.0 L1389.5,347.0" fill="none" stroke="#f0f" stroke-width="12" stroke-linecap="round" stroke-linejoin="round" />
</g>
<path d="M315.5,48.9 V1438.8500000000001" stroke="#000" stroke-width="6.9" fill="none"/>
<path d="M2204.05,49.15 V1438.8500000000001" stroke="#000" stroke-width="5.9" fill="none"/>
<path d="M301.3,52.35 H677 M709,52.35 H2207.0" stroke="#000" stroke-width="6.9" fill="none"/>
<path d="M286.8,1435.95 H677 M709,1435.95 H2207.0" stroke="#000" stroke-width="5.8" fill="none"/>
<circle cx="301.3" cy="52.35" r="3.45" fill="#000"/><circle cx="286.8" cy="1435.95" r="2.9" fill="#000"/>
<path d="M660.5,80.5 L693.3,24.3 M693.3,80.5 L726.1,24.3 M660.7,1464.2 L693.7,1407.4 M693,1464.2 L726,1407.4" stroke="#000" stroke-width="5" fill="none" stroke-linecap="round"/>
<path d="M301.5,1343.7 H315.5 M287.3,1251.4 H315.5 M301.5,1159.2 H315.5 M287.3,1066.9 H315.5 M301.5,974.7 H315.5 M287.3,882.4 H315.5 M301.5,790.2 H315.5 M287.3,697.9 H315.5 M301.5,605.7 H315.5 M287.3,513.4 H315.5 M301.5,421.2 H315.5 M287.3,328.9 H315.5 M301.5,236.7 H315.5 M287.3,144.4 H315.5 " stroke="#000" stroke-width="6.9" fill="none" stroke-linecap="round"/>
<path d="M400.5,1435.95 V1466.3 M612.8,1435.95 V1466.3 M966.4,1435.95 V1466.3 M1237,1435.95 V1466.3 M1508.2,1435.95 V1466.3 M1777.7,1435.95 V1466.3 M2048.3,1435.95 V1466.3 M506.4,1435.95 V1453 M830.8,1435.95 V1453 M1102,1435.95 V1453 M1372.6,1435.95 V1453 M1642.8,1435.95 V1453 M1913,1435.95 V1453 M2183.9,1435.95 V1453 " stroke="#000" stroke-width="6.8" fill="none"/>
<clipPath id="k1"><path d="M-3000,-3000H6000V3000H-3000ZM-90.17,-10.62H-74.72V3H-90.17ZM-62.22,-10.62H-47.85V3H-62.22Z" clip-rule="evenodd"/></clipPath><text transform="translate(267.6,1458.7) scale(1,1.066)" x="-93.99" y="0" font-size="84.5" clip-path="url(#k1)">10</text>
<text transform="translate(267.6,1274.7) scale(1,1.066)" x="-93.99" y="0" font-size="84.5">20</text>
<text transform="translate(267.6,1090.2) scale(1,1.066)" x="-93.99" y="0" font-size="84.5">30</text>
<text transform="translate(267.6,905.7) scale(1,1.066)" x="-93.99" y="0" font-size="84.5">40</text>
<text transform="translate(267.6,721.2) scale(1,1.066)" x="-93.99" y="0" font-size="84.5">50</text>
<text transform="translate(267.6,536.7) scale(1,1.066)" x="-93.99" y="0" font-size="84.5">60</text>
<text transform="translate(267.6,352.2) scale(1,1.066)" x="-93.99" y="0" font-size="84.5">70</text>
<text transform="translate(267.6,167.7) scale(1,1.066)" x="-93.99" y="0" font-size="84.5">80</text>
<text transform="translate(401,1550.3) scale(1,1.066)" x="-93.99" y="0" font-size="84.5">3500</text>
<text transform="translate(613.4,1550.3) scale(1,1.066)" x="-93.99" y="0" font-size="84.5">3000</text>
<clipPath id="k2"><path d="M-3000,-3000H6000V3000H-3000ZM-90.17,-10.62H-74.72V3H-90.17ZM-62.22,-10.62H-47.85V3H-62.22Z" clip-rule="evenodd"/></clipPath><text transform="translate(967.8,1550.3) scale(1,1.066)" x="-93.99" y="0" font-size="84.5" clip-path="url(#k2)">1800</text>
<clipPath id="k3"><path d="M-3000,-3000H6000V3000H-3000ZM-90.17,-10.62H-74.72V3H-90.17ZM-62.22,-10.62H-47.85V3H-62.22Z" clip-rule="evenodd"/></clipPath><text transform="translate(1238.6,1550.3) scale(1,1.066)" x="-93.99" y="0" font-size="84.5" clip-path="url(#k3)">1600</text>
<clipPath id="k4"><path d="M-3000,-3000H6000V3000H-3000ZM-90.17,-10.62H-74.72V3H-90.17ZM-62.22,-10.62H-47.85V3H-62.22Z" clip-rule="evenodd"/></clipPath><text transform="translate(1508.6,1550.3) scale(1,1.066)" x="-93.99" y="0" font-size="84.5" clip-path="url(#k4)">1400</text>
<clipPath id="k5"><path d="M-3000,-3000H6000V3000H-3000ZM-90.17,-10.62H-74.72V3H-90.17ZM-62.22,-10.62H-47.85V3H-62.22Z" clip-rule="evenodd"/></clipPath><text transform="translate(1778.5,1550.3) scale(1,1.066)" x="-93.99" y="0" font-size="84.5" clip-path="url(#k5)">1200</text>
<clipPath id="k6"><path d="M-3000,-3000H6000V3000H-3000ZM-90.17,-10.62H-74.72V3H-90.17ZM-62.22,-10.62H-47.85V3H-62.22Z" clip-rule="evenodd"/></clipPath><text transform="translate(2049,1550.3) scale(1,1.066)" x="-93.99" y="0" font-size="84.5" clip-path="url(#k6)">1000</text>
<clipPath id="kx"><path d="M-3000,-3000H6000V3000H-3000ZM826.23,-69.33H838.70V-57.49H826.23ZM848.79,-69.33H860.41V-57.49H848.79Z" clip-rule="evenodd"/></clipPath>
<text transform="translate(828.5,1683) scale(1,1.025)" font-size="112" clip-path="url(#kx)">Frequency <tspan x="597.7" font-size="106.4">(</tspan><tspan x="636">cm</tspan><tspan x="801.2" dy="-60.49" font-size="67">-1</tspan><tspan x="862.1" dy="60.49" font-size="106.4">)</tspan></text>
<text transform="translate(106.3,1192) rotate(-90) scale(1,1.025)" font-size="112">Transmitance <tspan x="758.2" font-size="106.4">(</tspan><tspan x="797.2" font-size="110">%</tspan><tspan x="900.4" font-size="106.4">)</tspan></text>
<text transform="translate(464,1180.5) rotate(-90) scale(1,1.076)" x="0.00" y="0" font-size="53.5">3385</text>
<clipPath id="k7"><path d="M-3000,-3000H6000V3000H-3000ZM31.62,-7.46H41.79V3H31.62ZM50.03,-7.46H59.52V3H50.03Z" clip-rule="evenodd"/></clipPath><text transform="translate(565.5,945.5) rotate(-90) scale(1,1.076)" x="0.00" y="0" font-size="53.5" clip-path="url(#k7)">3170</text>
<clipPath id="k8"><path d="M-3000,-3000H6000V3000H-3000ZM1.87,-7.46H12.04V3H1.87ZM20.28,-7.46H29.77V3H20.28ZM91.13,-7.46H101.30V3H91.13ZM109.54,-7.46H119.03V3H109.54Z" clip-rule="evenodd"/></clipPath><text transform="translate(1075,1287.5) rotate(-90) scale(1,1.076)" x="0.00" y="0" font-size="53.5" clip-path="url(#k8)">1731</text>
<clipPath id="k9"><path d="M-3000,-3000H6000V3000H-3000ZM1.87,-7.46H12.04V3H1.87ZM20.28,-7.46H29.77V3H20.28Z" clip-rule="evenodd"/></clipPath><text transform="translate(1144.5,1328.5) rotate(-90) scale(1,1.076)" x="0.00" y="0" font-size="53.5" clip-path="url(#k9)">1675</text>
<clipPath id="k10"><path d="M-3000,-3000H6000V3000H-3000ZM1.87,-7.46H12.04V3H1.87ZM20.28,-7.46H29.77V3H20.28Z" clip-rule="evenodd"/></clipPath><text transform="translate(1203.3,1365) rotate(-90) scale(1,1.076)" x="0.00" y="0" font-size="53.5" clip-path="url(#k10)">1635</text>
<clipPath id="k11"><path d="M-3000,-3000H6000V3000H-3000ZM1.87,-7.46H12.04V3H1.87ZM20.28,-7.46H29.77V3H20.28Z" clip-rule="evenodd"/></clipPath><text transform="translate(1519.2,1172.5) rotate(-90) scale(1,1.076)" x="0.00" y="0" font-size="53.5" clip-path="url(#k11)">1402</text>
<clipPath id="k12"><path d="M-3000,-3000H6000V3000H-3000ZM1.87,-7.46H12.04V3H1.87ZM20.28,-7.46H29.77V3H20.28Z" clip-rule="evenodd"/></clipPath><text transform="translate(1584,766.5) rotate(-90) scale(1,1.076)" x="0.00" y="0" font-size="53.5" clip-path="url(#k12)">1360</text>
<clipPath id="k13"><path d="M-3000,-3000H6000V3000H-3000ZM1.87,-7.46H12.04V3H1.87ZM20.28,-7.46H29.77V3H20.28ZM61.38,-7.46H71.55V3H61.38ZM79.79,-7.46H89.27V3H79.79Z" clip-rule="evenodd"/></clipPath><text transform="translate(1634,844.5) rotate(-90) scale(1,1.076)" x="0.00" y="0" font-size="53.5" clip-path="url(#k13)">1317</text>
<clipPath id="k14"><path d="M-3000,-3000H6000V3000H-3000ZM1.87,-7.46H12.04V3H1.87ZM20.28,-7.46H29.77V3H20.28Z" clip-rule="evenodd"/></clipPath><text transform="translate(1738.5,731) rotate(-90) scale(1,1.076)" x="0.00" y="0" font-size="53.5" clip-path="url(#k14)">1240</text>
<text transform="translate(2123,742.5) rotate(-90) scale(1,1.076)" x="0.00" y="0" font-size="53.5">963</text>
<text transform="translate(2171.5,937.5) rotate(-90) scale(1,1.076)" x="0.00" y="0" font-size="53.5">920</text>
</svg>
</body></html>
